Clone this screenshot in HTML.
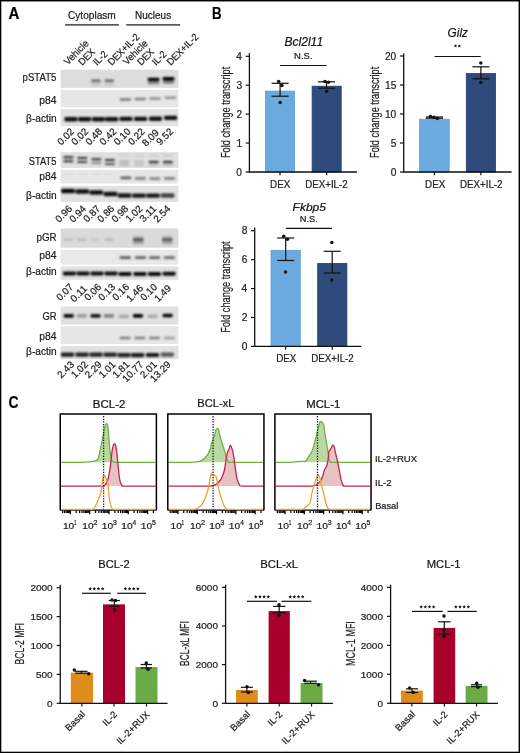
<!DOCTYPE html>
<html><head><meta charset="utf-8"><style>
html,body{margin:0;padding:0;background:#fff;width:520px;height:753px;overflow:hidden}
svg{display:block;opacity:0.999}
text{font-family:"Liberation Sans", sans-serif;stroke:#222;stroke-width:0.22px}
</style></head><body>
<svg width="520" height="753" viewBox="0 0 520 753" font-family='"Liberation Sans", sans-serif'>
<defs>
<filter id="bl7" x="-50%" y="-100%" width="200%" height="300%"><feGaussianBlur stdDeviation="0.7"/></filter>
<filter id="bl10" x="-50%" y="-100%" width="200%" height="300%"><feGaussianBlur stdDeviation="1.0"/></filter>
<filter id="bl12" x="-50%" y="-100%" width="200%" height="300%"><feGaussianBlur stdDeviation="1.2"/></filter>
</defs>
<rect width="520" height="753" fill="#fff"/>
<rect x="0.00" y="0.00" width="520.00" height="1.45" fill="#000"/>
<rect x="0.00" y="0.00" width="1.30" height="753.00" fill="#000"/>
<rect x="518.60" y="0.00" width="1.40" height="753.00" fill="#000"/>
<rect x="0.00" y="751.70" width="520.00" height="1.30" fill="#000"/>
<text x="8.47" y="18.60" font-size="16.2" font-weight="bold" fill="#000" textLength="10.93" lengthAdjust="spacingAndGlyphs">A</text>
<text x="212.11" y="18.60" font-size="16.2" font-weight="bold" fill="#000" textLength="9.59" lengthAdjust="spacingAndGlyphs">B</text>
<text x="8.43" y="407.90" font-size="16.2" font-weight="bold" fill="#000" textLength="10.05" lengthAdjust="spacingAndGlyphs">C</text>
<text x="67.99" y="19.30" font-size="10.3" fill="#222" textLength="47.78" lengthAdjust="spacingAndGlyphs">Cytoplasm</text>
<text x="134.98" y="19.20" font-size="10.0" fill="#222" textLength="36.18" lengthAdjust="spacingAndGlyphs">Nucleus</text>
<line x1="65.10" y1="24.85" x2="118.90" y2="24.85" stroke="#5c5c5c" stroke-width="1.8"/>
<line x1="126.20" y1="24.85" x2="180.20" y2="24.85" stroke="#5c5c5c" stroke-width="1.8"/>
<text transform="translate(68.00 65.40) rotate(-45)" x="-0.04" y="0" font-size="9.9" fill="#222" textLength="30.20" lengthAdjust="spacingAndGlyphs">Vehicle</text>
<text transform="translate(82.75 65.40) rotate(-45)" x="-0.76" y="0" font-size="9.9" fill="#222" textLength="18.93" lengthAdjust="spacingAndGlyphs">DEX</text>
<text transform="translate(97.50 65.40) rotate(-45)" x="-0.85" y="0" font-size="9.9" fill="#222" textLength="15.86" lengthAdjust="spacingAndGlyphs">IL-2</text>
<text transform="translate(112.25 65.40) rotate(-45)" x="-0.76" y="0" font-size="9.9" fill="#222" textLength="40.17" lengthAdjust="spacingAndGlyphs">DEX+IL-2</text>
<text transform="translate(127.00 65.40) rotate(-45)" x="-0.04" y="0" font-size="9.9" fill="#222" textLength="30.20" lengthAdjust="spacingAndGlyphs">Vehicle</text>
<text transform="translate(141.75 65.40) rotate(-45)" x="-0.76" y="0" font-size="9.9" fill="#222" textLength="18.93" lengthAdjust="spacingAndGlyphs">DEX</text>
<text transform="translate(156.50 65.40) rotate(-45)" x="-0.85" y="0" font-size="9.9" fill="#222" textLength="15.86" lengthAdjust="spacingAndGlyphs">IL-2</text>
<text transform="translate(171.25 65.40) rotate(-45)" x="-0.76" y="0" font-size="9.9" fill="#222" textLength="40.17" lengthAdjust="spacingAndGlyphs">DEX+IL-2</text>
<rect x="60.60" y="69.80" width="117.80" height="18.00" fill="#dddddd"/>
<g filter="url(#bl10)">
<rect x="91.10" y="79.50" width="9.60" height="2.40" rx="1.20" fill="#000" fill-opacity="0.55"/>
<rect x="104.50" y="79.50" width="9.60" height="2.40" rx="1.20" fill="#000" fill-opacity="0.55"/>
<rect x="91.10" y="83.50" width="9.60" height="1.80" rx="0.90" fill="#000" fill-opacity="0.18"/>
<rect x="104.50" y="83.50" width="9.60" height="1.80" rx="0.90" fill="#000" fill-opacity="0.18"/>
<rect x="147.70" y="77.70" width="11.80" height="3.60" rx="1.40" fill="#000" fill-opacity="1.0"/>
<rect x="162.60" y="77.10" width="11.80" height="3.60" rx="1.40" fill="#000" fill-opacity="1.0"/>
<rect x="147.85" y="81.80" width="11.50" height="2.40" rx="1.20" fill="#000" fill-opacity="0.45"/>
<rect x="162.75" y="81.30" width="11.50" height="2.40" rx="1.20" fill="#000" fill-opacity="0.45"/>
</g>
<rect x="60.60" y="89.90" width="117.80" height="17.40" fill="#e6e6e6"/>
<g filter="url(#bl10)">
<rect x="119.60" y="98.35" width="11.60" height="2.50" rx="1.25" fill="#000" fill-opacity="0.5"/>
<rect x="134.50" y="97.75" width="11.60" height="2.50" rx="1.25" fill="#000" fill-opacity="0.45"/>
<rect x="149.30" y="97.15" width="11.60" height="2.50" rx="1.25" fill="#000" fill-opacity="0.4"/>
<rect x="164.40" y="96.55" width="11.60" height="2.50" rx="1.25" fill="#000" fill-opacity="0.38"/>
</g>
<rect x="60.60" y="109.10" width="117.80" height="17.10" fill="#e2e2e2"/>
<g filter="url(#bl10)">
<rect x="64.35" y="117.10" width="13.00" height="4.40" rx="1.40" fill="#000" fill-opacity="0.93"/>
<rect x="78.05" y="117.10" width="13.00" height="4.40" rx="1.40" fill="#000" fill-opacity="0.93"/>
<rect x="91.85" y="117.10" width="13.00" height="4.40" rx="1.40" fill="#000" fill-opacity="0.93"/>
<rect x="105.15" y="117.10" width="13.00" height="4.40" rx="1.40" fill="#000" fill-opacity="0.93"/>
<rect x="119.50" y="116.70" width="13.00" height="4.40" rx="1.40" fill="#000" fill-opacity="0.93"/>
<rect x="134.10" y="116.70" width="13.00" height="4.40" rx="1.40" fill="#000" fill-opacity="0.93"/>
<rect x="149.00" y="116.50" width="13.00" height="4.40" rx="1.40" fill="#000" fill-opacity="0.93"/>
<rect x="164.10" y="115.70" width="13.00" height="4.40" rx="1.40" fill="#000" fill-opacity="0.93"/>
</g>
<text x="22.60" y="80.50" font-size="10.6" fill="#222" textLength="33.88" lengthAdjust="spacingAndGlyphs">pSTAT5</text>
<text x="39.13" y="103.50" font-size="10.6" fill="#222" textLength="17.27" lengthAdjust="spacingAndGlyphs">p84</text>
<text x="26.10" y="121.80" font-size="10.6" fill="#222" textLength="30.66" lengthAdjust="spacingAndGlyphs">β-actin</text>
<text transform="translate(74.40 132.50) rotate(-45)" x="-18.77" y="0" font-size="9.9" fill="#222" textLength="19.27" lengthAdjust="spacingAndGlyphs">0.02</text>
<text transform="translate(88.55 132.50) rotate(-45)" x="-18.77" y="0" font-size="9.9" fill="#222" textLength="19.27" lengthAdjust="spacingAndGlyphs">0.02</text>
<text transform="translate(102.70 132.50) rotate(-45)" x="-18.84" y="0" font-size="9.9" fill="#222" textLength="19.27" lengthAdjust="spacingAndGlyphs">0.48</text>
<text transform="translate(116.85 132.50) rotate(-45)" x="-18.77" y="0" font-size="9.9" fill="#222" textLength="19.27" lengthAdjust="spacingAndGlyphs">0.42</text>
<text transform="translate(131.00 132.50) rotate(-45)" x="-18.88" y="0" font-size="9.9" fill="#222" textLength="19.27" lengthAdjust="spacingAndGlyphs">0.10</text>
<text transform="translate(145.15 132.50) rotate(-45)" x="-18.77" y="0" font-size="9.9" fill="#222" textLength="19.27" lengthAdjust="spacingAndGlyphs">0.22</text>
<text transform="translate(159.30 133.70) rotate(-45)" x="-18.80" y="0" font-size="9.9" fill="#222" textLength="19.27" lengthAdjust="spacingAndGlyphs">8.09</text>
<text transform="translate(173.45 132.50) rotate(-45)" x="-18.77" y="0" font-size="9.9" fill="#222" textLength="19.27" lengthAdjust="spacingAndGlyphs">9.52</text>
<rect x="60.60" y="152.30" width="117.80" height="15.60" fill="#dfdfdf"/>
<g filter="url(#bl10)">
<rect x="63.30" y="156.30" width="10.20" height="2.00" rx="1.00" fill="#000" fill-opacity="0.85"/>
<rect x="77.20" y="156.90" width="10.20" height="2.00" rx="1.00" fill="#000" fill-opacity="0.8"/>
<rect x="91.30" y="158.20" width="10.20" height="2.00" rx="1.00" fill="#000" fill-opacity="0.8"/>
<rect x="104.80" y="159.00" width="10.20" height="2.00" rx="1.00" fill="#000" fill-opacity="0.8"/>
<rect x="119.20" y="154.60" width="10.20" height="2.00" rx="1.00" fill="#000" fill-opacity="0.08"/>
<rect x="134.10" y="154.60" width="10.20" height="2.00" rx="1.00" fill="#000" fill-opacity="0.08"/>
<rect x="148.60" y="154.60" width="10.20" height="2.00" rx="1.00" fill="#000" fill-opacity="0.1"/>
<rect x="162.80" y="154.60" width="10.20" height="2.00" rx="1.00" fill="#000" fill-opacity="0.1"/>
<rect x="63.30" y="160.30" width="10.20" height="2.00" rx="1.00" fill="#000" fill-opacity="0.8"/>
<rect x="77.20" y="160.90" width="10.20" height="2.00" rx="1.00" fill="#000" fill-opacity="0.75"/>
<rect x="91.30" y="162.00" width="10.20" height="2.00" rx="1.00" fill="#000" fill-opacity="0.4"/>
<rect x="104.80" y="163.00" width="10.20" height="2.00" rx="1.00" fill="#000" fill-opacity="0.65"/>
<rect x="119.20" y="160.80" width="10.20" height="2.00" rx="1.00" fill="#000" fill-opacity="0.28"/>
<rect x="134.10" y="160.80" width="10.20" height="2.00" rx="1.00" fill="#000" fill-opacity="0.2"/>
<rect x="148.60" y="160.90" width="10.20" height="2.00" rx="1.00" fill="#000" fill-opacity="0.85"/>
<rect x="162.80" y="160.90" width="10.20" height="2.00" rx="1.00" fill="#000" fill-opacity="0.85"/>
<rect x="119.20" y="164.25" width="10.20" height="1.70" rx="0.85" fill="#000" fill-opacity="0.22"/>
<rect x="134.10" y="164.25" width="10.20" height="1.70" rx="0.85" fill="#000" fill-opacity="0.17"/>
<rect x="148.60" y="164.25" width="10.20" height="1.70" rx="0.85" fill="#000" fill-opacity="0.22"/>
<rect x="162.80" y="164.25" width="10.20" height="1.70" rx="0.85" fill="#000" fill-opacity="0.22"/>
</g>
<rect x="60.60" y="169.80" width="117.80" height="13.70" fill="#e6e6e6"/>
<g filter="url(#bl10)">
<rect x="120.30" y="176.60" width="11.20" height="2.60" rx="1.30" fill="#000" fill-opacity="0.58"/>
<rect x="134.80" y="177.10" width="11.20" height="2.60" rx="1.30" fill="#000" fill-opacity="0.45"/>
<rect x="149.20" y="177.30" width="11.20" height="2.60" rx="1.30" fill="#000" fill-opacity="0.42"/>
<rect x="163.90" y="177.10" width="11.20" height="2.60" rx="1.30" fill="#000" fill-opacity="0.45"/>
<rect x="63.40" y="174.00" width="10.00" height="1.60" rx="0.80" fill="#000" fill-opacity="0.05"/>
<rect x="77.30" y="174.00" width="10.00" height="1.60" rx="0.80" fill="#000" fill-opacity="0.05"/>
<rect x="91.40" y="174.00" width="10.00" height="1.60" rx="0.80" fill="#000" fill-opacity="0.04"/>
<rect x="104.90" y="174.00" width="10.00" height="1.60" rx="0.80" fill="#000" fill-opacity="0.04"/>
</g>
<rect x="60.60" y="185.80" width="117.80" height="16.10" fill="#e1e1e1"/>
<g filter="url(#bl10)">
<rect x="61.20" y="188.85" width="13.60" height="4.30" rx="1.40" fill="#000" fill-opacity="0.97"/>
<rect x="75.40" y="189.35" width="13.60" height="4.30" rx="1.40" fill="#000" fill-opacity="0.93"/>
<rect x="89.50" y="190.35" width="13.60" height="4.30" rx="1.40" fill="#000" fill-opacity="0.93"/>
<rect x="103.70" y="191.85" width="13.60" height="4.30" rx="1.40" fill="#000" fill-opacity="0.93"/>
<rect x="117.70" y="193.35" width="13.60" height="4.30" rx="1.40" fill="#000" fill-opacity="0.9"/>
<rect x="132.10" y="193.55" width="13.60" height="4.30" rx="1.40" fill="#000" fill-opacity="0.9"/>
<rect x="146.30" y="193.55" width="13.60" height="4.30" rx="1.40" fill="#000" fill-opacity="0.9"/>
<rect x="160.80" y="193.35" width="13.60" height="4.30" rx="1.40" fill="#000" fill-opacity="0.72"/>
</g>
<text x="28.69" y="164.60" font-size="10.6" fill="#222" textLength="27.78" lengthAdjust="spacingAndGlyphs">STAT5</text>
<text x="39.13" y="179.60" font-size="10.6" fill="#222" textLength="17.27" lengthAdjust="spacingAndGlyphs">p84</text>
<text x="26.10" y="198.50" font-size="10.6" fill="#222" textLength="30.66" lengthAdjust="spacingAndGlyphs">β-actin</text>
<text transform="translate(72.50 209.60) rotate(-45)" x="-18.83" y="0" font-size="9.9" fill="#222" textLength="19.27" lengthAdjust="spacingAndGlyphs">0.96</text>
<text transform="translate(86.55 209.60) rotate(-45)" x="-18.98" y="0" font-size="9.9" fill="#222" textLength="19.27" lengthAdjust="spacingAndGlyphs">0.94</text>
<text transform="translate(100.60 209.60) rotate(-45)" x="-18.77" y="0" font-size="9.9" fill="#222" textLength="19.27" lengthAdjust="spacingAndGlyphs">0.87</text>
<text transform="translate(114.65 209.60) rotate(-45)" x="-18.83" y="0" font-size="9.9" fill="#222" textLength="19.27" lengthAdjust="spacingAndGlyphs">0.86</text>
<text transform="translate(128.70 209.60) rotate(-45)" x="-18.84" y="0" font-size="9.9" fill="#222" textLength="19.27" lengthAdjust="spacingAndGlyphs">0.98</text>
<text transform="translate(142.75 209.60) rotate(-45)" x="-18.77" y="0" font-size="9.9" fill="#222" textLength="19.27" lengthAdjust="spacingAndGlyphs">1.02</text>
<text transform="translate(156.80 209.60) rotate(-45)" x="-18.78" y="0" font-size="9.9" fill="#222" textLength="19.27" lengthAdjust="spacingAndGlyphs">3.11</text>
<text transform="translate(170.85 209.60) rotate(-45)" x="-18.98" y="0" font-size="9.9" fill="#222" textLength="19.27" lengthAdjust="spacingAndGlyphs">2.54</text>
<rect x="60.60" y="228.50" width="117.80" height="19.20" fill="#dadada"/>
<g filter="url(#bl10)">
<rect x="63.65" y="238.30" width="9.50" height="2.60" rx="1.30" fill="#000" fill-opacity="0.13"/>
<rect x="76.65" y="238.30" width="9.50" height="2.60" rx="1.30" fill="#000" fill-opacity="0.14"/>
<rect x="90.15" y="238.30" width="9.50" height="2.60" rx="1.30" fill="#000" fill-opacity="0.08"/>
<rect x="104.25" y="238.30" width="9.50" height="2.60" rx="1.30" fill="#000" fill-opacity="0.14"/>
<rect x="132.80" y="237.80" width="10.80" height="3.40" rx="1.40" fill="#000" fill-opacity="0.58"/>
<rect x="161.90" y="237.80" width="10.80" height="3.40" rx="1.40" fill="#000" fill-opacity="0.55"/>
<rect x="132.80" y="241.10" width="10.80" height="3.40" rx="1.40" fill="#000" fill-opacity="0.25"/>
<rect x="161.90" y="241.10" width="10.80" height="3.40" rx="1.40" fill="#000" fill-opacity="0.22"/>
<rect x="133.20" y="235.50" width="10.00" height="2.00" rx="1.00" fill="#000" fill-opacity="0.12"/>
<rect x="162.30" y="235.50" width="10.00" height="2.00" rx="1.00" fill="#000" fill-opacity="0.12"/>
</g>
<rect x="60.60" y="250.00" width="117.80" height="14.60" fill="#e8e8e8"/>
<g filter="url(#bl10)">
<rect x="119.55" y="256.30" width="11.50" height="2.60" rx="1.30" fill="#000" fill-opacity="0.62"/>
<rect x="134.75" y="256.30" width="11.50" height="2.60" rx="1.30" fill="#000" fill-opacity="0.58"/>
<rect x="148.85" y="256.30" width="11.50" height="2.60" rx="1.30" fill="#000" fill-opacity="0.58"/>
<rect x="163.75" y="256.30" width="11.50" height="2.60" rx="1.30" fill="#000" fill-opacity="0.55"/>
</g>
<rect x="60.60" y="266.40" width="117.80" height="13.40" fill="#e1e1e1"/>
<g filter="url(#bl10)">
<rect x="62.90" y="271.50" width="13.00" height="4.00" rx="1.40" fill="#000" fill-opacity="0.95"/>
<rect x="76.50" y="271.50" width="13.00" height="4.00" rx="1.40" fill="#000" fill-opacity="0.95"/>
<rect x="90.50" y="271.50" width="13.00" height="4.00" rx="1.40" fill="#000" fill-opacity="0.95"/>
<rect x="104.50" y="271.50" width="13.00" height="4.00" rx="1.40" fill="#000" fill-opacity="0.95"/>
<rect x="118.50" y="272.00" width="13.00" height="4.00" rx="1.40" fill="#000" fill-opacity="0.95"/>
<rect x="133.50" y="272.10" width="13.00" height="4.00" rx="1.40" fill="#000" fill-opacity="0.95"/>
<rect x="148.00" y="272.10" width="13.00" height="4.00" rx="1.40" fill="#000" fill-opacity="0.95"/>
<rect x="162.60" y="271.70" width="13.00" height="4.00" rx="1.40" fill="#000" fill-opacity="0.95"/>
</g>
<text x="36.47" y="241.10" font-size="10.6" fill="#222" textLength="20.08" lengthAdjust="spacingAndGlyphs">pGR</text>
<text x="39.13" y="258.50" font-size="10.6" fill="#222" textLength="17.27" lengthAdjust="spacingAndGlyphs">p84</text>
<text x="26.10" y="275.10" font-size="10.6" fill="#222" textLength="30.66" lengthAdjust="spacingAndGlyphs">β-actin</text>
<text transform="translate(73.50 288.00) rotate(-45)" x="-18.77" y="0" font-size="9.9" fill="#222" textLength="19.27" lengthAdjust="spacingAndGlyphs">0.07</text>
<text transform="translate(87.50 289.50) rotate(-45)" x="-18.78" y="0" font-size="9.9" fill="#222" textLength="19.27" lengthAdjust="spacingAndGlyphs">0.11</text>
<text transform="translate(101.50 288.00) rotate(-45)" x="-18.83" y="0" font-size="9.9" fill="#222" textLength="19.27" lengthAdjust="spacingAndGlyphs">0.06</text>
<text transform="translate(115.50 288.00) rotate(-45)" x="-18.83" y="0" font-size="9.9" fill="#222" textLength="19.27" lengthAdjust="spacingAndGlyphs">0.13</text>
<text transform="translate(129.50 288.00) rotate(-45)" x="-18.83" y="0" font-size="9.9" fill="#222" textLength="19.27" lengthAdjust="spacingAndGlyphs">0.16</text>
<text transform="translate(143.50 289.20) rotate(-45)" x="-18.83" y="0" font-size="9.9" fill="#222" textLength="19.27" lengthAdjust="spacingAndGlyphs">1.46</text>
<text transform="translate(157.50 288.00) rotate(-45)" x="-18.88" y="0" font-size="9.9" fill="#222" textLength="19.27" lengthAdjust="spacingAndGlyphs">0.10</text>
<text transform="translate(171.50 289.20) rotate(-45)" x="-18.80" y="0" font-size="9.9" fill="#222" textLength="19.27" lengthAdjust="spacingAndGlyphs">1.49</text>
<rect x="60.60" y="306.50" width="117.80" height="18.10" fill="#e0e0e0"/>
<g filter="url(#bl10)">
<rect x="63.60" y="314.10" width="10.20" height="3.60" rx="1.40" fill="#000" fill-opacity="0.95"/>
<rect x="76.70" y="314.10" width="10.20" height="3.60" rx="1.40" fill="#000" fill-opacity="0.3"/>
<rect x="90.40" y="314.10" width="10.20" height="3.60" rx="1.40" fill="#000" fill-opacity="0.9"/>
<rect x="103.80" y="314.10" width="10.20" height="3.60" rx="1.40" fill="#000" fill-opacity="0.42"/>
<rect x="118.70" y="314.70" width="10.20" height="3.60" rx="1.40" fill="#000" fill-opacity="0.25"/>
<rect x="132.90" y="314.10" width="10.20" height="3.60" rx="1.40" fill="#000" fill-opacity="0.98"/>
<rect x="147.50" y="314.50" width="10.20" height="3.60" rx="1.40" fill="#000" fill-opacity="0.25"/>
<rect x="162.50" y="313.70" width="10.20" height="3.60" rx="1.40" fill="#000" fill-opacity="0.98"/>
</g>
<rect x="60.60" y="326.20" width="117.80" height="17.70" fill="#e6e6e6"/>
<g filter="url(#bl10)">
<rect x="119.40" y="336.65" width="11.20" height="2.70" rx="1.35" fill="#000" fill-opacity="0.48"/>
<rect x="134.30" y="336.65" width="11.20" height="2.70" rx="1.35" fill="#000" fill-opacity="0.45"/>
<rect x="148.80" y="336.65" width="11.20" height="2.70" rx="1.35" fill="#000" fill-opacity="0.45"/>
<rect x="163.90" y="336.65" width="11.20" height="2.70" rx="1.35" fill="#000" fill-opacity="0.32"/>
</g>
<rect x="60.60" y="346.10" width="117.80" height="13.20" fill="#e1e1e1"/>
<g filter="url(#bl10)">
<rect x="60.90" y="352.50" width="13.20" height="4.20" rx="1.40" fill="#000" fill-opacity="0.88"/>
<rect x="75.40" y="352.50" width="13.20" height="4.20" rx="1.40" fill="#000" fill-opacity="0.85"/>
<rect x="89.40" y="352.50" width="13.20" height="4.20" rx="1.40" fill="#000" fill-opacity="0.85"/>
<rect x="103.60" y="352.50" width="13.20" height="4.20" rx="1.40" fill="#000" fill-opacity="0.85"/>
<rect x="117.40" y="353.00" width="13.20" height="4.20" rx="1.40" fill="#000" fill-opacity="0.85"/>
<rect x="131.00" y="353.00" width="13.20" height="4.20" rx="1.40" fill="#000" fill-opacity="0.88"/>
<rect x="145.90" y="352.90" width="13.20" height="4.20" rx="1.40" fill="#000" fill-opacity="0.9"/>
<rect x="160.70" y="352.50" width="13.20" height="4.20" rx="1.40" fill="#000" fill-opacity="0.62"/>
</g>
<text x="42.43" y="319.60" font-size="10.6" fill="#222" textLength="14.11" lengthAdjust="spacingAndGlyphs">GR</text>
<text x="39.13" y="339.50" font-size="10.6" fill="#222" textLength="17.27" lengthAdjust="spacingAndGlyphs">p84</text>
<text x="26.10" y="355.00" font-size="10.6" fill="#222" textLength="30.66" lengthAdjust="spacingAndGlyphs">β-actin</text>
<text transform="translate(74.50 365.50) rotate(-45)" x="-18.83" y="0" font-size="9.9" fill="#222" textLength="19.27" lengthAdjust="spacingAndGlyphs">2.43</text>
<text transform="translate(88.30 365.50) rotate(-45)" x="-18.77" y="0" font-size="9.9" fill="#222" textLength="19.27" lengthAdjust="spacingAndGlyphs">1.02</text>
<text transform="translate(102.10 365.50) rotate(-45)" x="-18.80" y="0" font-size="9.9" fill="#222" textLength="19.27" lengthAdjust="spacingAndGlyphs">2.29</text>
<text transform="translate(115.90 365.50) rotate(-45)" x="-18.78" y="0" font-size="9.9" fill="#222" textLength="19.27" lengthAdjust="spacingAndGlyphs">1.01</text>
<text transform="translate(129.70 365.50) rotate(-45)" x="-18.78" y="0" font-size="9.9" fill="#222" textLength="19.27" lengthAdjust="spacingAndGlyphs">1.81</text>
<text transform="translate(143.50 365.50) rotate(-45)" x="-24.28" y="0" font-size="9.9" fill="#222" textLength="24.77" lengthAdjust="spacingAndGlyphs">10.77</text>
<text transform="translate(157.30 365.50) rotate(-45)" x="-18.78" y="0" font-size="9.9" fill="#222" textLength="19.27" lengthAdjust="spacingAndGlyphs">2.01</text>
<text transform="translate(171.10 365.50) rotate(-45)" x="-24.31" y="0" font-size="9.9" fill="#222" textLength="24.77" lengthAdjust="spacingAndGlyphs">13.29</text>
<rect x="265.40" y="91.11" width="29.20" height="80.89" fill="#6aaade" stroke="#5d9fd6" stroke-width="0.8"/>
<rect x="312.10" y="86.19" width="29.10" height="85.81" fill="#2e4b7c" stroke="#22406f" stroke-width="0.8"/>
<line x1="249.40" y1="53.10" x2="249.40" y2="172.65" stroke="#111" stroke-width="1.3"/>
<line x1="248.75" y1="172.00" x2="356.90" y2="172.00" stroke="#111" stroke-width="1.3"/>
<line x1="245.70" y1="172.00" x2="249.40" y2="172.00" stroke="#111" stroke-width="1.2"/>
<text x="236.33" y="175.50" font-size="10.2" fill="#222" textLength="5.67" lengthAdjust="spacingAndGlyphs">0</text>
<line x1="245.70" y1="143.07" x2="249.40" y2="143.07" stroke="#111" stroke-width="1.2"/>
<text x="236.43" y="146.57" font-size="10.2" fill="#222" textLength="5.67" lengthAdjust="spacingAndGlyphs">1</text>
<line x1="245.70" y1="114.14" x2="249.40" y2="114.14" stroke="#111" stroke-width="1.2"/>
<text x="236.44" y="117.64" font-size="10.2" fill="#222" textLength="5.67" lengthAdjust="spacingAndGlyphs">2</text>
<line x1="245.70" y1="85.21" x2="249.40" y2="85.21" stroke="#111" stroke-width="1.2"/>
<text x="236.38" y="88.71" font-size="10.2" fill="#222" textLength="5.67" lengthAdjust="spacingAndGlyphs">3</text>
<line x1="245.70" y1="56.28" x2="249.40" y2="56.28" stroke="#111" stroke-width="1.2"/>
<text x="236.23" y="59.78" font-size="10.2" fill="#222" textLength="5.67" lengthAdjust="spacingAndGlyphs">4</text>
<line x1="280.00" y1="172.00" x2="280.00" y2="175.30" stroke="#111" stroke-width="1.2"/>
<line x1="326.65" y1="172.00" x2="326.65" y2="175.30" stroke="#111" stroke-width="1.2"/>
<line x1="280.10" y1="83.30" x2="280.10" y2="96.20" stroke="#111" stroke-width="1.2"/>
<line x1="271.60" y1="83.30" x2="288.60" y2="83.30" stroke="#111" stroke-width="1.2"/>
<line x1="271.60" y1="96.20" x2="288.60" y2="96.20" stroke="#111" stroke-width="1.2"/>
<line x1="326.50" y1="81.80" x2="326.50" y2="88.20" stroke="#111" stroke-width="1.2"/>
<line x1="318.00" y1="81.80" x2="335.00" y2="81.80" stroke="#111" stroke-width="1.2"/>
<line x1="318.00" y1="88.20" x2="335.00" y2="88.20" stroke="#111" stroke-width="1.2"/>
<circle cx="278.70" cy="81.40" r="1.75" fill="#111"/>
<circle cx="281.90" cy="85.40" r="1.75" fill="#111"/>
<circle cx="280.20" cy="102.60" r="1.75" fill="#111"/>
<circle cx="325.00" cy="81.40" r="1.75" fill="#111"/>
<circle cx="328.40" cy="82.30" r="1.75" fill="#111"/>
<circle cx="326.70" cy="91.30" r="1.75" fill="#111"/>
<text transform="translate(229.80 157.30) rotate(-90)" x="-0.76" y="0" font-size="12.6" fill="#222" textLength="91.32" lengthAdjust="spacingAndGlyphs">Fold change transcript</text>
<text x="270.09" y="187.90" font-size="10.0" fill="#222" textLength="20.21" lengthAdjust="spacingAndGlyphs">DEX</text>
<text x="305.25" y="187.90" font-size="10.0" fill="#222" textLength="42.39" lengthAdjust="spacingAndGlyphs">DEX+IL-2</text>
<text x="284.64" y="45.50" font-size="11.9" font-style="italic" fill="#111" textLength="38.45" lengthAdjust="spacingAndGlyphs">Bcl2l11</text>
<text x="294.12" y="59.40" font-size="9.3" fill="#222" textLength="18.44" lengthAdjust="spacingAndGlyphs">N.S.</text>
<line x1="280.00" y1="65.50" x2="326.60" y2="65.50" stroke="#111" stroke-width="1.2"/>
<rect x="419.50" y="119.21" width="29.70" height="52.79" fill="#6aaade" stroke="#5d9fd6" stroke-width="0.8"/>
<rect x="466.30" y="73.51" width="29.20" height="98.49" fill="#2e4b7c" stroke="#22406f" stroke-width="0.8"/>
<line x1="403.70" y1="53.30" x2="403.70" y2="172.65" stroke="#111" stroke-width="1.3"/>
<line x1="403.05" y1="172.00" x2="511.60" y2="172.00" stroke="#111" stroke-width="1.3"/>
<line x1="400.00" y1="172.00" x2="403.70" y2="172.00" stroke="#111" stroke-width="1.2"/>
<text x="390.63" y="175.50" font-size="10.2" fill="#222" textLength="5.67" lengthAdjust="spacingAndGlyphs">0</text>
<line x1="400.00" y1="143.00" x2="403.70" y2="143.00" stroke="#111" stroke-width="1.2"/>
<text x="390.66" y="146.50" font-size="10.2" fill="#222" textLength="5.67" lengthAdjust="spacingAndGlyphs">5</text>
<line x1="400.00" y1="114.00" x2="403.70" y2="114.00" stroke="#111" stroke-width="1.2"/>
<text x="384.95" y="117.50" font-size="10.2" fill="#222" textLength="11.35" lengthAdjust="spacingAndGlyphs">10</text>
<line x1="400.00" y1="85.00" x2="403.70" y2="85.00" stroke="#111" stroke-width="1.2"/>
<text x="384.98" y="88.50" font-size="10.2" fill="#222" textLength="11.35" lengthAdjust="spacingAndGlyphs">15</text>
<line x1="400.00" y1="56.00" x2="403.70" y2="56.00" stroke="#111" stroke-width="1.2"/>
<text x="384.95" y="59.50" font-size="10.2" fill="#222" textLength="11.35" lengthAdjust="spacingAndGlyphs">20</text>
<line x1="434.35" y1="172.00" x2="434.35" y2="175.30" stroke="#111" stroke-width="1.2"/>
<line x1="480.90" y1="172.00" x2="480.90" y2="175.30" stroke="#111" stroke-width="1.2"/>
<line x1="434.40" y1="117.00" x2="434.40" y2="118.20" stroke="#111" stroke-width="1.2"/>
<line x1="425.80" y1="117.00" x2="443.00" y2="117.00" stroke="#111" stroke-width="1.2"/>
<line x1="425.80" y1="118.20" x2="443.00" y2="118.20" stroke="#111" stroke-width="1.2"/>
<line x1="480.90" y1="66.80" x2="480.90" y2="78.80" stroke="#111" stroke-width="1.2"/>
<line x1="472.40" y1="66.80" x2="489.40" y2="66.80" stroke="#111" stroke-width="1.2"/>
<line x1="472.40" y1="78.80" x2="489.40" y2="78.80" stroke="#111" stroke-width="1.2"/>
<circle cx="430.40" cy="116.40" r="1.75" fill="#111"/>
<circle cx="433.80" cy="117.30" r="1.75" fill="#111"/>
<circle cx="437.30" cy="118.50" r="1.75" fill="#111"/>
<circle cx="480.80" cy="63.00" r="1.75" fill="#111"/>
<circle cx="480.80" cy="82.50" r="1.75" fill="#111"/>
<text transform="translate(378.75 157.25) rotate(-90)" x="-0.76" y="0" font-size="12.6" fill="#222" textLength="91.32" lengthAdjust="spacingAndGlyphs">Fold change transcript</text>
<text x="425.04" y="187.90" font-size="10.0" fill="#222" textLength="20.21" lengthAdjust="spacingAndGlyphs">DEX</text>
<text x="460.10" y="187.90" font-size="10.0" fill="#222" textLength="42.39" lengthAdjust="spacingAndGlyphs">DEX+IL-2</text>
<text x="447.62" y="36.80" font-size="12.0" font-style="italic" fill="#111" textLength="20.34" lengthAdjust="spacingAndGlyphs">Gilz</text>
<polygon points="455.50,44.15 455.97,45.35 457.26,45.43 456.26,46.25 456.59,47.50 455.50,46.80 454.41,47.50 454.74,46.25 453.74,45.43 455.03,45.35" fill="#111"/>
<polygon points="459.30,44.15 459.77,45.35 461.06,45.43 460.06,46.25 460.39,47.50 459.30,46.80 458.21,47.50 458.54,46.25 457.54,45.43 458.83,45.35" fill="#111"/>
<line x1="434.50" y1="56.50" x2="480.80" y2="56.50" stroke="#111" stroke-width="1.2"/>
<rect x="271.00" y="250.35" width="29.30" height="96.05" fill="#6aaade" stroke="#5d9fd6" stroke-width="0.8"/>
<rect x="317.70" y="263.37" width="29.20" height="83.03" fill="#2e4b7c" stroke="#22406f" stroke-width="0.8"/>
<line x1="254.70" y1="227.50" x2="254.70" y2="347.05" stroke="#111" stroke-width="1.3"/>
<line x1="254.05" y1="346.40" x2="361.30" y2="346.40" stroke="#111" stroke-width="1.3"/>
<line x1="251.00" y1="346.40" x2="254.70" y2="346.40" stroke="#111" stroke-width="1.2"/>
<text x="241.63" y="349.90" font-size="10.2" fill="#222" textLength="5.67" lengthAdjust="spacingAndGlyphs">0</text>
<line x1="251.00" y1="317.48" x2="254.70" y2="317.48" stroke="#111" stroke-width="1.2"/>
<text x="241.74" y="320.98" font-size="10.2" fill="#222" textLength="5.67" lengthAdjust="spacingAndGlyphs">2</text>
<line x1="251.00" y1="288.56" x2="254.70" y2="288.56" stroke="#111" stroke-width="1.2"/>
<text x="241.53" y="292.06" font-size="10.2" fill="#222" textLength="5.67" lengthAdjust="spacingAndGlyphs">4</text>
<line x1="251.00" y1="259.64" x2="254.70" y2="259.64" stroke="#111" stroke-width="1.2"/>
<text x="241.68" y="263.14" font-size="10.2" fill="#222" textLength="5.67" lengthAdjust="spacingAndGlyphs">6</text>
<line x1="251.00" y1="230.72" x2="254.70" y2="230.72" stroke="#111" stroke-width="1.2"/>
<text x="241.67" y="234.22" font-size="10.2" fill="#222" textLength="5.67" lengthAdjust="spacingAndGlyphs">8</text>
<line x1="285.65" y1="346.40" x2="285.65" y2="349.70" stroke="#111" stroke-width="1.2"/>
<line x1="332.30" y1="346.40" x2="332.30" y2="349.70" stroke="#111" stroke-width="1.2"/>
<line x1="285.70" y1="238.00" x2="285.70" y2="260.50" stroke="#111" stroke-width="1.2"/>
<line x1="277.20" y1="238.00" x2="294.20" y2="238.00" stroke="#111" stroke-width="1.2"/>
<line x1="277.20" y1="260.50" x2="294.20" y2="260.50" stroke="#111" stroke-width="1.2"/>
<line x1="332.20" y1="251.30" x2="332.20" y2="273.00" stroke="#111" stroke-width="1.2"/>
<line x1="323.70" y1="251.30" x2="340.70" y2="251.30" stroke="#111" stroke-width="1.2"/>
<line x1="323.70" y1="273.00" x2="340.70" y2="273.00" stroke="#111" stroke-width="1.2"/>
<circle cx="283.70" cy="236.30" r="1.75" fill="#111"/>
<circle cx="287.50" cy="239.30" r="1.75" fill="#111"/>
<circle cx="285.50" cy="272.00" r="1.75" fill="#111"/>
<circle cx="331.80" cy="242.50" r="1.75" fill="#111"/>
<circle cx="331.80" cy="280.00" r="1.75" fill="#111"/>
<text transform="translate(229.90 331.90) rotate(-90)" x="-0.76" y="0" font-size="12.6" fill="#222" textLength="91.32" lengthAdjust="spacingAndGlyphs">Fold change transcript</text>
<text x="276.14" y="361.90" font-size="10.0" fill="#222" textLength="20.21" lengthAdjust="spacingAndGlyphs">DEX</text>
<text x="311.30" y="361.90" font-size="10.0" fill="#222" textLength="42.39" lengthAdjust="spacingAndGlyphs">DEX+IL-2</text>
<text x="292.63" y="210.90" font-size="11.1" font-style="italic" fill="#111" textLength="33.34" lengthAdjust="spacingAndGlyphs">Fkbp5</text>
<text x="299.74" y="222.40" font-size="8.8" fill="#222" textLength="18.00" lengthAdjust="spacingAndGlyphs">N.S.</text>
<line x1="285.80" y1="228.30" x2="332.00" y2="228.30" stroke="#111" stroke-width="1.2"/>
<text x="92.86" y="407.70" font-size="10.3" fill="#111" textLength="32.62" lengthAdjust="spacingAndGlyphs">BCL-2</text>
<line x1="60.25" y1="510.20" x2="156.40" y2="510.20" stroke="#000" stroke-width="1.3"/>
<path d="M61.05,462.30 C64.21,462.30 75.24,462.37 80.00,462.30 C84.76,462.23 87.03,462.13 89.60,461.90 C92.17,461.67 94.03,461.35 95.40,460.90 C96.77,460.45 97.17,460.28 97.80,459.20 C98.43,458.12 98.63,456.65 99.20,454.40 C99.77,452.15 100.55,448.90 101.20,445.70 C101.85,442.50 102.47,438.40 103.10,435.20 C103.73,432.00 104.45,428.48 105.00,426.50 C105.55,424.52 105.92,423.30 106.40,423.30 C106.88,423.30 107.50,424.05 107.90,426.50 C108.30,428.95 108.45,434.00 108.80,438.00 C109.15,442.00 109.63,447.28 110.00,450.50 C110.37,453.72 110.63,455.53 111.00,457.30 C111.37,459.07 111.60,460.30 112.20,461.10 C112.80,461.90 113.63,461.90 114.60,462.10 C115.57,462.30 111.17,462.27 118.00,462.30 C124.83,462.33 149.33,462.30 155.60,462.30 L155.60,462.30 L61.05,462.30 Z" fill="#bad9a2" stroke="none"/>
<path d="M61.05,486.10 C67.54,486.10 92.96,486.12 100.00,486.10 C107.04,486.08 102.35,486.32 103.30,486.00 C104.25,485.68 104.98,485.13 105.70,484.20 C106.42,483.27 107.05,482.00 107.60,480.40 C108.15,478.80 108.52,477.17 109.00,474.60 C109.48,472.03 110.02,468.68 110.50,465.00 C110.98,461.32 111.42,455.78 111.90,452.50 C112.38,449.22 112.97,446.72 113.40,445.30 C113.83,443.88 114.10,443.92 114.50,444.00 C114.90,444.08 115.35,443.75 115.80,445.80 C116.25,447.85 116.72,451.98 117.20,456.30 C117.68,460.62 118.22,467.53 118.70,471.70 C119.18,475.87 119.55,479.05 120.10,481.30 C120.65,483.55 121.12,484.40 122.00,485.20 C122.88,486.00 119.80,485.95 125.40,486.10 C131.00,486.25 150.57,486.10 155.60,486.10 L155.60,486.10 L61.05,486.10 Z" fill="#e7c2c3" stroke="none"/>
<path d="M61.05,462.30 C64.21,462.30 75.24,462.37 80.00,462.30 C84.76,462.23 87.03,462.13 89.60,461.90 C92.17,461.67 94.03,461.35 95.40,460.90 C96.77,460.45 97.17,460.28 97.80,459.20 C98.43,458.12 98.63,456.65 99.20,454.40 C99.77,452.15 100.55,448.90 101.20,445.70 C101.85,442.50 102.47,438.40 103.10,435.20 C103.73,432.00 104.45,428.48 105.00,426.50 C105.55,424.52 105.92,423.30 106.40,423.30 C106.88,423.30 107.50,424.05 107.90,426.50 C108.30,428.95 108.45,434.00 108.80,438.00 C109.15,442.00 109.63,447.28 110.00,450.50 C110.37,453.72 110.63,455.53 111.00,457.30 C111.37,459.07 111.60,460.30 112.20,461.10 C112.80,461.90 113.63,461.90 114.60,462.10 C115.57,462.30 111.17,462.27 118.00,462.30 C124.83,462.33 149.33,462.30 155.60,462.30" fill="none" stroke="#6db33f" stroke-width="1.3" stroke-linejoin="round"/>
<path d="M61.05,486.10 C67.54,486.10 92.96,486.12 100.00,486.10 C107.04,486.08 102.35,486.32 103.30,486.00 C104.25,485.68 104.98,485.13 105.70,484.20 C106.42,483.27 107.05,482.00 107.60,480.40 C108.15,478.80 108.52,477.17 109.00,474.60 C109.48,472.03 110.02,468.68 110.50,465.00 C110.98,461.32 111.42,455.78 111.90,452.50 C112.38,449.22 112.97,446.72 113.40,445.30 C113.83,443.88 114.10,443.92 114.50,444.00 C114.90,444.08 115.35,443.75 115.80,445.80 C116.25,447.85 116.72,451.98 117.20,456.30 C117.68,460.62 118.22,467.53 118.70,471.70 C119.18,475.87 119.55,479.05 120.10,481.30 C120.65,483.55 121.12,484.40 122.00,485.20 C122.88,486.00 119.80,485.95 125.40,486.10 C131.00,486.25 150.57,486.10 155.60,486.10" fill="none" stroke="#c4244c" stroke-width="1.3" stroke-linejoin="round"/>
<path d="M61.05,509.50 C65.54,509.50 82.79,509.52 88.00,509.50 C93.21,509.48 91.27,509.63 92.30,509.40 C93.33,509.17 93.50,509.03 94.20,508.10 C94.90,507.17 95.73,505.40 96.50,503.80 C97.27,502.20 98.08,500.30 98.80,498.50 C99.52,496.70 100.28,494.93 100.80,493.00 C101.32,491.07 101.62,489.07 101.90,486.90 C102.18,484.73 102.23,481.78 102.50,480.00 C102.77,478.22 103.22,476.97 103.50,476.20 C103.78,475.43 103.92,475.28 104.20,475.40 C104.48,475.52 104.82,476.13 105.20,476.90 C105.58,477.67 106.08,478.97 106.50,480.00 C106.92,481.03 107.37,481.43 107.70,483.10 C108.03,484.77 108.20,487.32 108.50,490.00 C108.80,492.68 109.12,496.63 109.50,499.20 C109.88,501.77 110.33,503.80 110.80,505.40 C111.27,507.00 111.73,508.13 112.30,508.80 C112.87,509.47 113.25,509.28 114.20,509.40 C115.15,509.52 111.10,509.48 118.00,509.50 C124.90,509.52 149.33,509.50 155.60,509.50" fill="none" stroke="#eea232" stroke-width="1.3" stroke-linejoin="round"/>
<line x1="103.60" y1="416.00" x2="103.60" y2="509.60" stroke="#111" stroke-width="1.3" stroke-dasharray="1.25,1.4"/>
<path d="M60.25,510.20 V414.00 H156.40 V510.20" fill="none" stroke="#000" stroke-width="1.5"/>
<line x1="62.72" y1="510.40" x2="62.72" y2="513.10" stroke="#000" stroke-width="1.25"/>
<line x1="64.59" y1="510.40" x2="64.59" y2="513.10" stroke="#000" stroke-width="1.25"/>
<line x1="66.12" y1="510.40" x2="66.12" y2="513.10" stroke="#000" stroke-width="1.25"/>
<line x1="67.41" y1="510.40" x2="67.41" y2="513.10" stroke="#000" stroke-width="1.25"/>
<line x1="68.53" y1="510.40" x2="68.53" y2="513.10" stroke="#000" stroke-width="1.25"/>
<line x1="69.52" y1="510.40" x2="69.52" y2="513.10" stroke="#000" stroke-width="1.25"/>
<line x1="70.40" y1="510.40" x2="70.40" y2="514.20" stroke="#000" stroke-width="1.25"/>
<line x1="76.21" y1="510.40" x2="76.21" y2="513.10" stroke="#000" stroke-width="1.25"/>
<line x1="79.61" y1="510.40" x2="79.61" y2="513.10" stroke="#000" stroke-width="1.25"/>
<line x1="82.02" y1="510.40" x2="82.02" y2="513.10" stroke="#000" stroke-width="1.25"/>
<line x1="83.89" y1="510.40" x2="83.89" y2="513.10" stroke="#000" stroke-width="1.25"/>
<line x1="85.42" y1="510.40" x2="85.42" y2="513.10" stroke="#000" stroke-width="1.25"/>
<line x1="86.71" y1="510.40" x2="86.71" y2="513.10" stroke="#000" stroke-width="1.25"/>
<line x1="87.83" y1="510.40" x2="87.83" y2="513.10" stroke="#000" stroke-width="1.25"/>
<line x1="88.82" y1="510.40" x2="88.82" y2="513.10" stroke="#000" stroke-width="1.25"/>
<line x1="89.70" y1="510.40" x2="89.70" y2="514.20" stroke="#000" stroke-width="1.25"/>
<line x1="95.51" y1="510.40" x2="95.51" y2="513.10" stroke="#000" stroke-width="1.25"/>
<line x1="98.91" y1="510.40" x2="98.91" y2="513.10" stroke="#000" stroke-width="1.25"/>
<line x1="101.32" y1="510.40" x2="101.32" y2="513.10" stroke="#000" stroke-width="1.25"/>
<line x1="103.19" y1="510.40" x2="103.19" y2="513.10" stroke="#000" stroke-width="1.25"/>
<line x1="104.72" y1="510.40" x2="104.72" y2="513.10" stroke="#000" stroke-width="1.25"/>
<line x1="106.01" y1="510.40" x2="106.01" y2="513.10" stroke="#000" stroke-width="1.25"/>
<line x1="107.13" y1="510.40" x2="107.13" y2="513.10" stroke="#000" stroke-width="1.25"/>
<line x1="108.12" y1="510.40" x2="108.12" y2="513.10" stroke="#000" stroke-width="1.25"/>
<line x1="109.00" y1="510.40" x2="109.00" y2="514.20" stroke="#000" stroke-width="1.25"/>
<line x1="114.81" y1="510.40" x2="114.81" y2="513.10" stroke="#000" stroke-width="1.25"/>
<line x1="118.21" y1="510.40" x2="118.21" y2="513.10" stroke="#000" stroke-width="1.25"/>
<line x1="120.62" y1="510.40" x2="120.62" y2="513.10" stroke="#000" stroke-width="1.25"/>
<line x1="122.49" y1="510.40" x2="122.49" y2="513.10" stroke="#000" stroke-width="1.25"/>
<line x1="124.02" y1="510.40" x2="124.02" y2="513.10" stroke="#000" stroke-width="1.25"/>
<line x1="125.31" y1="510.40" x2="125.31" y2="513.10" stroke="#000" stroke-width="1.25"/>
<line x1="126.43" y1="510.40" x2="126.43" y2="513.10" stroke="#000" stroke-width="1.25"/>
<line x1="127.42" y1="510.40" x2="127.42" y2="513.10" stroke="#000" stroke-width="1.25"/>
<line x1="128.30" y1="510.40" x2="128.30" y2="514.20" stroke="#000" stroke-width="1.25"/>
<line x1="134.11" y1="510.40" x2="134.11" y2="513.10" stroke="#000" stroke-width="1.25"/>
<line x1="137.51" y1="510.40" x2="137.51" y2="513.10" stroke="#000" stroke-width="1.25"/>
<line x1="139.92" y1="510.40" x2="139.92" y2="513.10" stroke="#000" stroke-width="1.25"/>
<line x1="141.79" y1="510.40" x2="141.79" y2="513.10" stroke="#000" stroke-width="1.25"/>
<line x1="143.32" y1="510.40" x2="143.32" y2="513.10" stroke="#000" stroke-width="1.25"/>
<line x1="144.61" y1="510.40" x2="144.61" y2="513.10" stroke="#000" stroke-width="1.25"/>
<line x1="145.73" y1="510.40" x2="145.73" y2="513.10" stroke="#000" stroke-width="1.25"/>
<line x1="146.72" y1="510.40" x2="146.72" y2="513.10" stroke="#000" stroke-width="1.25"/>
<line x1="147.60" y1="510.40" x2="147.60" y2="514.20" stroke="#000" stroke-width="1.25"/>
<line x1="153.41" y1="510.40" x2="153.41" y2="513.10" stroke="#000" stroke-width="1.25"/>
<text x="62.92" y="528.90" font-size="9.9" fill="#222" textLength="11.38" lengthAdjust="spacingAndGlyphs">10</text>
<text x="74.05" y="525.00" font-size="7.3" fill="#222" textLength="2.58" lengthAdjust="spacingAndGlyphs">1</text>
<text x="82.37" y="528.90" font-size="9.9" fill="#222" textLength="11.38" lengthAdjust="spacingAndGlyphs">10</text>
<text x="93.49" y="525.00" font-size="7.3" fill="#222" textLength="4.03" lengthAdjust="spacingAndGlyphs">2</text>
<text x="101.82" y="528.90" font-size="9.9" fill="#222" textLength="11.38" lengthAdjust="spacingAndGlyphs">10</text>
<text x="113.03" y="525.00" font-size="7.3" fill="#222" textLength="3.87" lengthAdjust="spacingAndGlyphs">3</text>
<text x="121.27" y="528.90" font-size="9.9" fill="#222" textLength="11.38" lengthAdjust="spacingAndGlyphs">10</text>
<text x="132.60" y="525.00" font-size="7.3" fill="#222" textLength="3.64" lengthAdjust="spacingAndGlyphs">4</text>
<text x="140.72" y="528.90" font-size="9.9" fill="#222" textLength="11.38" lengthAdjust="spacingAndGlyphs">10</text>
<text x="151.92" y="525.00" font-size="7.3" fill="#222" textLength="3.87" lengthAdjust="spacingAndGlyphs">5</text>
<text x="197.39" y="407.10" font-size="10.3" fill="#111" textLength="36.98" lengthAdjust="spacingAndGlyphs">BCL-xL</text>
<line x1="167.80" y1="510.20" x2="263.95" y2="510.20" stroke="#000" stroke-width="1.3"/>
<path d="M168.60,462.30 C172.17,462.30 185.28,462.37 190.00,462.30 C194.72,462.23 194.98,462.17 196.90,461.90 C198.82,461.63 200.15,461.38 201.50,460.70 C202.85,460.02 203.83,459.05 205.00,457.80 C206.17,456.55 207.53,454.92 208.50,453.20 C209.47,451.48 210.33,449.13 210.80,447.50 C211.27,445.87 210.92,444.57 211.30,443.40 C211.68,442.23 212.70,441.65 213.10,440.50 C213.50,439.35 213.42,437.37 213.70,436.50 C213.98,435.63 214.42,436.45 214.80,435.30 C215.18,434.15 215.62,430.68 216.00,429.60 C216.38,428.52 216.72,428.90 217.10,428.80 C217.48,428.70 217.92,428.20 218.30,429.00 C218.68,429.80 218.92,431.68 219.40,433.60 C219.88,435.52 220.52,438.18 221.20,440.50 C221.88,442.82 222.83,445.38 223.50,447.50 C224.17,449.62 224.63,451.28 225.20,453.20 C225.77,455.12 226.32,457.53 226.90,459.00 C227.48,460.47 227.85,461.45 228.70,462.00 C229.55,462.55 226.26,462.25 232.00,462.30 C237.74,462.35 257.96,462.30 263.15,462.30 L263.15,462.30 L168.60,462.30 Z" fill="#bad9a2" stroke="none"/>
<path d="M168.60,486.10 C174.67,486.10 197.72,486.13 205.00,486.10 C212.28,486.07 210.50,486.18 212.30,485.90 C214.10,485.62 214.65,485.13 215.80,484.40 C216.95,483.67 218.15,482.75 219.20,481.50 C220.25,480.25 221.23,478.82 222.10,476.90 C222.97,474.98 223.77,472.68 224.40,470.00 C225.03,467.32 225.45,463.50 225.90,460.80 C226.35,458.10 226.77,455.35 227.10,453.80 C227.43,452.25 227.58,452.27 227.90,451.50 C228.22,450.73 228.62,450.20 229.00,449.20 C229.38,448.20 229.82,445.88 230.20,445.50 C230.58,445.12 230.92,446.08 231.30,446.90 C231.68,447.72 232.10,448.85 232.50,450.40 C232.90,451.95 233.22,453.13 233.70,456.20 C234.18,459.27 234.83,464.97 235.40,468.80 C235.97,472.63 236.43,476.60 237.10,479.20 C237.77,481.80 238.53,483.25 239.40,484.40 C240.27,485.55 238.34,485.82 242.30,486.10 C246.26,486.38 259.68,486.10 263.15,486.10 L263.15,486.10 L168.60,486.10 Z" fill="#e7c2c3" stroke="none"/>
<path d="M168.60,462.30 C172.17,462.30 185.28,462.37 190.00,462.30 C194.72,462.23 194.98,462.17 196.90,461.90 C198.82,461.63 200.15,461.38 201.50,460.70 C202.85,460.02 203.83,459.05 205.00,457.80 C206.17,456.55 207.53,454.92 208.50,453.20 C209.47,451.48 210.33,449.13 210.80,447.50 C211.27,445.87 210.92,444.57 211.30,443.40 C211.68,442.23 212.70,441.65 213.10,440.50 C213.50,439.35 213.42,437.37 213.70,436.50 C213.98,435.63 214.42,436.45 214.80,435.30 C215.18,434.15 215.62,430.68 216.00,429.60 C216.38,428.52 216.72,428.90 217.10,428.80 C217.48,428.70 217.92,428.20 218.30,429.00 C218.68,429.80 218.92,431.68 219.40,433.60 C219.88,435.52 220.52,438.18 221.20,440.50 C221.88,442.82 222.83,445.38 223.50,447.50 C224.17,449.62 224.63,451.28 225.20,453.20 C225.77,455.12 226.32,457.53 226.90,459.00 C227.48,460.47 227.85,461.45 228.70,462.00 C229.55,462.55 226.26,462.25 232.00,462.30 C237.74,462.35 257.96,462.30 263.15,462.30" fill="none" stroke="#6db33f" stroke-width="1.3" stroke-linejoin="round"/>
<path d="M168.60,486.10 C174.67,486.10 197.72,486.13 205.00,486.10 C212.28,486.07 210.50,486.18 212.30,485.90 C214.10,485.62 214.65,485.13 215.80,484.40 C216.95,483.67 218.15,482.75 219.20,481.50 C220.25,480.25 221.23,478.82 222.10,476.90 C222.97,474.98 223.77,472.68 224.40,470.00 C225.03,467.32 225.45,463.50 225.90,460.80 C226.35,458.10 226.77,455.35 227.10,453.80 C227.43,452.25 227.58,452.27 227.90,451.50 C228.22,450.73 228.62,450.20 229.00,449.20 C229.38,448.20 229.82,445.88 230.20,445.50 C230.58,445.12 230.92,446.08 231.30,446.90 C231.68,447.72 232.10,448.85 232.50,450.40 C232.90,451.95 233.22,453.13 233.70,456.20 C234.18,459.27 234.83,464.97 235.40,468.80 C235.97,472.63 236.43,476.60 237.10,479.20 C237.77,481.80 238.53,483.25 239.40,484.40 C240.27,485.55 238.34,485.82 242.30,486.10 C246.26,486.38 259.68,486.10 263.15,486.10" fill="none" stroke="#c4244c" stroke-width="1.3" stroke-linejoin="round"/>
<path d="M168.60,509.50 C172.50,509.50 187.60,509.55 192.00,509.50 C196.40,509.45 193.92,509.53 195.00,509.20 C196.08,508.87 197.35,508.27 198.50,507.50 C199.65,506.73 200.75,506.23 201.90,504.60 C203.05,502.97 204.33,500.38 205.40,497.70 C206.47,495.02 207.53,491.58 208.30,488.50 C209.07,485.42 209.52,481.70 210.00,479.20 C210.48,476.70 210.82,474.27 211.20,473.50 C211.58,472.73 211.92,474.22 212.30,474.60 C212.68,474.98 213.08,475.73 213.50,475.80 C213.92,475.87 214.33,474.80 214.80,475.00 C215.27,475.20 215.85,475.53 216.30,477.00 C216.75,478.47 217.02,481.50 217.50,483.80 C217.98,486.10 218.53,488.30 219.20,490.80 C219.87,493.30 220.73,496.40 221.50,498.80 C222.27,501.20 223.02,503.55 223.80,505.20 C224.58,506.85 225.23,507.98 226.20,508.70 C227.17,509.42 223.44,509.37 229.60,509.50 C235.76,509.63 257.56,509.50 263.15,509.50" fill="none" stroke="#eea232" stroke-width="1.3" stroke-linejoin="round"/>
<line x1="213.10" y1="416.00" x2="213.10" y2="509.60" stroke="#111" stroke-width="1.3" stroke-dasharray="1.25,1.4"/>
<path d="M167.80,510.20 V414.00 H263.95 V510.20" fill="none" stroke="#000" stroke-width="1.5"/>
<line x1="170.27" y1="510.40" x2="170.27" y2="513.10" stroke="#000" stroke-width="1.25"/>
<line x1="172.14" y1="510.40" x2="172.14" y2="513.10" stroke="#000" stroke-width="1.25"/>
<line x1="173.67" y1="510.40" x2="173.67" y2="513.10" stroke="#000" stroke-width="1.25"/>
<line x1="174.96" y1="510.40" x2="174.96" y2="513.10" stroke="#000" stroke-width="1.25"/>
<line x1="176.08" y1="510.40" x2="176.08" y2="513.10" stroke="#000" stroke-width="1.25"/>
<line x1="177.07" y1="510.40" x2="177.07" y2="513.10" stroke="#000" stroke-width="1.25"/>
<line x1="177.95" y1="510.40" x2="177.95" y2="514.20" stroke="#000" stroke-width="1.25"/>
<line x1="183.76" y1="510.40" x2="183.76" y2="513.10" stroke="#000" stroke-width="1.25"/>
<line x1="187.16" y1="510.40" x2="187.16" y2="513.10" stroke="#000" stroke-width="1.25"/>
<line x1="189.57" y1="510.40" x2="189.57" y2="513.10" stroke="#000" stroke-width="1.25"/>
<line x1="191.44" y1="510.40" x2="191.44" y2="513.10" stroke="#000" stroke-width="1.25"/>
<line x1="192.97" y1="510.40" x2="192.97" y2="513.10" stroke="#000" stroke-width="1.25"/>
<line x1="194.26" y1="510.40" x2="194.26" y2="513.10" stroke="#000" stroke-width="1.25"/>
<line x1="195.38" y1="510.40" x2="195.38" y2="513.10" stroke="#000" stroke-width="1.25"/>
<line x1="196.37" y1="510.40" x2="196.37" y2="513.10" stroke="#000" stroke-width="1.25"/>
<line x1="197.25" y1="510.40" x2="197.25" y2="514.20" stroke="#000" stroke-width="1.25"/>
<line x1="203.06" y1="510.40" x2="203.06" y2="513.10" stroke="#000" stroke-width="1.25"/>
<line x1="206.46" y1="510.40" x2="206.46" y2="513.10" stroke="#000" stroke-width="1.25"/>
<line x1="208.87" y1="510.40" x2="208.87" y2="513.10" stroke="#000" stroke-width="1.25"/>
<line x1="210.74" y1="510.40" x2="210.74" y2="513.10" stroke="#000" stroke-width="1.25"/>
<line x1="212.27" y1="510.40" x2="212.27" y2="513.10" stroke="#000" stroke-width="1.25"/>
<line x1="213.56" y1="510.40" x2="213.56" y2="513.10" stroke="#000" stroke-width="1.25"/>
<line x1="214.68" y1="510.40" x2="214.68" y2="513.10" stroke="#000" stroke-width="1.25"/>
<line x1="215.67" y1="510.40" x2="215.67" y2="513.10" stroke="#000" stroke-width="1.25"/>
<line x1="216.55" y1="510.40" x2="216.55" y2="514.20" stroke="#000" stroke-width="1.25"/>
<line x1="222.36" y1="510.40" x2="222.36" y2="513.10" stroke="#000" stroke-width="1.25"/>
<line x1="225.76" y1="510.40" x2="225.76" y2="513.10" stroke="#000" stroke-width="1.25"/>
<line x1="228.17" y1="510.40" x2="228.17" y2="513.10" stroke="#000" stroke-width="1.25"/>
<line x1="230.04" y1="510.40" x2="230.04" y2="513.10" stroke="#000" stroke-width="1.25"/>
<line x1="231.57" y1="510.40" x2="231.57" y2="513.10" stroke="#000" stroke-width="1.25"/>
<line x1="232.86" y1="510.40" x2="232.86" y2="513.10" stroke="#000" stroke-width="1.25"/>
<line x1="233.98" y1="510.40" x2="233.98" y2="513.10" stroke="#000" stroke-width="1.25"/>
<line x1="234.97" y1="510.40" x2="234.97" y2="513.10" stroke="#000" stroke-width="1.25"/>
<line x1="235.85" y1="510.40" x2="235.85" y2="514.20" stroke="#000" stroke-width="1.25"/>
<line x1="241.66" y1="510.40" x2="241.66" y2="513.10" stroke="#000" stroke-width="1.25"/>
<line x1="245.06" y1="510.40" x2="245.06" y2="513.10" stroke="#000" stroke-width="1.25"/>
<line x1="247.47" y1="510.40" x2="247.47" y2="513.10" stroke="#000" stroke-width="1.25"/>
<line x1="249.34" y1="510.40" x2="249.34" y2="513.10" stroke="#000" stroke-width="1.25"/>
<line x1="250.87" y1="510.40" x2="250.87" y2="513.10" stroke="#000" stroke-width="1.25"/>
<line x1="252.16" y1="510.40" x2="252.16" y2="513.10" stroke="#000" stroke-width="1.25"/>
<line x1="253.28" y1="510.40" x2="253.28" y2="513.10" stroke="#000" stroke-width="1.25"/>
<line x1="254.27" y1="510.40" x2="254.27" y2="513.10" stroke="#000" stroke-width="1.25"/>
<line x1="255.15" y1="510.40" x2="255.15" y2="514.20" stroke="#000" stroke-width="1.25"/>
<line x1="260.96" y1="510.40" x2="260.96" y2="513.10" stroke="#000" stroke-width="1.25"/>
<text x="170.47" y="528.90" font-size="9.9" fill="#222" textLength="11.38" lengthAdjust="spacingAndGlyphs">10</text>
<text x="181.60" y="525.00" font-size="7.3" fill="#222" textLength="2.58" lengthAdjust="spacingAndGlyphs">1</text>
<text x="189.92" y="528.90" font-size="9.9" fill="#222" textLength="11.38" lengthAdjust="spacingAndGlyphs">10</text>
<text x="201.04" y="525.00" font-size="7.3" fill="#222" textLength="4.03" lengthAdjust="spacingAndGlyphs">2</text>
<text x="209.37" y="528.90" font-size="9.9" fill="#222" textLength="11.38" lengthAdjust="spacingAndGlyphs">10</text>
<text x="220.58" y="525.00" font-size="7.3" fill="#222" textLength="3.87" lengthAdjust="spacingAndGlyphs">3</text>
<text x="228.82" y="528.90" font-size="9.9" fill="#222" textLength="11.38" lengthAdjust="spacingAndGlyphs">10</text>
<text x="240.15" y="525.00" font-size="7.3" fill="#222" textLength="3.64" lengthAdjust="spacingAndGlyphs">4</text>
<text x="248.27" y="528.90" font-size="9.9" fill="#222" textLength="11.38" lengthAdjust="spacingAndGlyphs">10</text>
<text x="259.47" y="525.00" font-size="7.3" fill="#222" textLength="3.87" lengthAdjust="spacingAndGlyphs">5</text>
<text x="306.17" y="407.60" font-size="10.3" fill="#111" textLength="34.19" lengthAdjust="spacingAndGlyphs">MCL-1</text>
<line x1="274.90" y1="510.20" x2="371.05" y2="510.20" stroke="#000" stroke-width="1.3"/>
<path d="M275.70,462.30 C278.08,462.30 285.88,462.45 290.00,462.30 C294.12,462.15 297.80,461.60 300.40,461.40 C303.00,461.20 304.25,461.88 305.60,461.10 C306.95,460.32 307.45,458.30 308.50,456.70 C309.55,455.10 310.95,453.62 311.90,451.50 C312.85,449.38 313.43,446.70 314.20,444.00 C314.97,441.30 315.82,438.00 316.50,435.30 C317.18,432.60 317.82,429.82 318.30,427.80 C318.78,425.78 319.02,424.25 319.40,423.20 C319.78,422.15 320.12,421.58 320.60,421.50 C321.08,421.42 321.78,422.12 322.30,422.70 C322.82,423.28 323.32,423.57 323.70,425.00 C324.08,426.43 324.25,429.10 324.60,431.30 C324.95,433.50 325.42,435.88 325.80,438.20 C326.18,440.52 326.52,442.70 326.90,445.20 C327.28,447.70 327.72,450.70 328.10,453.20 C328.48,455.70 328.80,458.72 329.20,460.20 C329.60,461.68 329.70,461.75 330.50,462.10 C331.30,462.45 327.38,462.27 334.00,462.30 C340.62,462.33 364.21,462.30 370.25,462.30 L370.25,462.30 L275.70,462.30 Z" fill="#bad9a2" stroke="none"/>
<path d="M275.70,486.10 C280.58,486.10 298.70,486.13 305.00,486.10 C311.30,486.07 311.52,486.18 313.50,485.90 C315.48,485.62 315.75,485.22 316.90,484.40 C318.05,483.58 319.43,482.43 320.40,481.00 C321.37,479.57 322.03,477.63 322.70,475.80 C323.37,473.97 323.82,471.45 324.40,470.00 C324.98,468.55 325.62,468.63 326.20,467.10 C326.78,465.57 327.43,463.40 327.90,460.80 C328.37,458.20 328.62,453.33 329.00,451.50 C329.38,449.67 329.75,450.57 330.20,449.80 C330.65,449.03 331.27,447.73 331.70,446.90 C332.13,446.07 332.38,444.80 332.80,444.80 C333.22,444.80 333.67,445.20 334.20,446.90 C334.73,448.60 335.42,452.50 336.00,455.00 C336.58,457.50 337.13,459.20 337.70,461.90 C338.27,464.60 338.82,468.12 339.40,471.20 C339.98,474.28 340.52,478.00 341.20,480.40 C341.88,482.80 342.73,484.65 343.50,485.60 C344.27,486.55 341.34,486.02 345.80,486.10 C350.26,486.18 366.17,486.10 370.25,486.10 L370.25,486.10 L275.70,486.10 Z" fill="#e7c2c3" stroke="none"/>
<path d="M275.70,462.30 C278.08,462.30 285.88,462.45 290.00,462.30 C294.12,462.15 297.80,461.60 300.40,461.40 C303.00,461.20 304.25,461.88 305.60,461.10 C306.95,460.32 307.45,458.30 308.50,456.70 C309.55,455.10 310.95,453.62 311.90,451.50 C312.85,449.38 313.43,446.70 314.20,444.00 C314.97,441.30 315.82,438.00 316.50,435.30 C317.18,432.60 317.82,429.82 318.30,427.80 C318.78,425.78 319.02,424.25 319.40,423.20 C319.78,422.15 320.12,421.58 320.60,421.50 C321.08,421.42 321.78,422.12 322.30,422.70 C322.82,423.28 323.32,423.57 323.70,425.00 C324.08,426.43 324.25,429.10 324.60,431.30 C324.95,433.50 325.42,435.88 325.80,438.20 C326.18,440.52 326.52,442.70 326.90,445.20 C327.28,447.70 327.72,450.70 328.10,453.20 C328.48,455.70 328.80,458.72 329.20,460.20 C329.60,461.68 329.70,461.75 330.50,462.10 C331.30,462.45 327.38,462.27 334.00,462.30 C340.62,462.33 364.21,462.30 370.25,462.30" fill="none" stroke="#6db33f" stroke-width="1.3" stroke-linejoin="round"/>
<path d="M275.70,486.10 C280.58,486.10 298.70,486.13 305.00,486.10 C311.30,486.07 311.52,486.18 313.50,485.90 C315.48,485.62 315.75,485.22 316.90,484.40 C318.05,483.58 319.43,482.43 320.40,481.00 C321.37,479.57 322.03,477.63 322.70,475.80 C323.37,473.97 323.82,471.45 324.40,470.00 C324.98,468.55 325.62,468.63 326.20,467.10 C326.78,465.57 327.43,463.40 327.90,460.80 C328.37,458.20 328.62,453.33 329.00,451.50 C329.38,449.67 329.75,450.57 330.20,449.80 C330.65,449.03 331.27,447.73 331.70,446.90 C332.13,446.07 332.38,444.80 332.80,444.80 C333.22,444.80 333.67,445.20 334.20,446.90 C334.73,448.60 335.42,452.50 336.00,455.00 C336.58,457.50 337.13,459.20 337.70,461.90 C338.27,464.60 338.82,468.12 339.40,471.20 C339.98,474.28 340.52,478.00 341.20,480.40 C341.88,482.80 342.73,484.65 343.50,485.60 C344.27,486.55 341.34,486.02 345.80,486.10 C350.26,486.18 366.17,486.10 370.25,486.10" fill="none" stroke="#c4244c" stroke-width="1.3" stroke-linejoin="round"/>
<path d="M275.70,509.50 C279.42,509.50 293.43,509.55 298.00,509.50 C302.57,509.45 301.68,509.73 303.10,509.20 C304.52,508.67 305.35,507.35 306.50,506.30 C307.65,505.25 309.13,504.92 310.00,502.90 C310.87,500.88 311.12,496.80 311.70,494.20 C312.28,491.60 312.82,489.70 313.50,487.30 C314.18,484.90 315.13,481.72 315.80,479.80 C316.47,477.88 317.02,476.57 317.50,475.80 C317.98,475.03 318.32,474.82 318.70,475.20 C319.08,475.58 319.33,476.47 319.80,478.10 C320.27,479.73 320.92,482.70 321.50,485.00 C322.08,487.30 322.62,489.02 323.30,491.90 C323.98,494.78 324.83,499.60 325.60,502.30 C326.37,505.00 327.03,506.90 327.90,508.10 C328.77,509.30 329.78,509.27 330.80,509.50 C331.82,509.73 327.43,509.50 334.00,509.50 C340.57,509.50 364.21,509.50 370.25,509.50" fill="none" stroke="#eea232" stroke-width="1.3" stroke-linejoin="round"/>
<line x1="317.50" y1="416.00" x2="317.50" y2="509.60" stroke="#111" stroke-width="1.3" stroke-dasharray="1.25,1.4"/>
<path d="M274.90,510.20 V414.00 H371.05 V510.20" fill="none" stroke="#000" stroke-width="1.5"/>
<line x1="277.37" y1="510.40" x2="277.37" y2="513.10" stroke="#000" stroke-width="1.25"/>
<line x1="279.24" y1="510.40" x2="279.24" y2="513.10" stroke="#000" stroke-width="1.25"/>
<line x1="280.77" y1="510.40" x2="280.77" y2="513.10" stroke="#000" stroke-width="1.25"/>
<line x1="282.06" y1="510.40" x2="282.06" y2="513.10" stroke="#000" stroke-width="1.25"/>
<line x1="283.18" y1="510.40" x2="283.18" y2="513.10" stroke="#000" stroke-width="1.25"/>
<line x1="284.17" y1="510.40" x2="284.17" y2="513.10" stroke="#000" stroke-width="1.25"/>
<line x1="285.05" y1="510.40" x2="285.05" y2="514.20" stroke="#000" stroke-width="1.25"/>
<line x1="290.86" y1="510.40" x2="290.86" y2="513.10" stroke="#000" stroke-width="1.25"/>
<line x1="294.26" y1="510.40" x2="294.26" y2="513.10" stroke="#000" stroke-width="1.25"/>
<line x1="296.67" y1="510.40" x2="296.67" y2="513.10" stroke="#000" stroke-width="1.25"/>
<line x1="298.54" y1="510.40" x2="298.54" y2="513.10" stroke="#000" stroke-width="1.25"/>
<line x1="300.07" y1="510.40" x2="300.07" y2="513.10" stroke="#000" stroke-width="1.25"/>
<line x1="301.36" y1="510.40" x2="301.36" y2="513.10" stroke="#000" stroke-width="1.25"/>
<line x1="302.48" y1="510.40" x2="302.48" y2="513.10" stroke="#000" stroke-width="1.25"/>
<line x1="303.47" y1="510.40" x2="303.47" y2="513.10" stroke="#000" stroke-width="1.25"/>
<line x1="304.35" y1="510.40" x2="304.35" y2="514.20" stroke="#000" stroke-width="1.25"/>
<line x1="310.16" y1="510.40" x2="310.16" y2="513.10" stroke="#000" stroke-width="1.25"/>
<line x1="313.56" y1="510.40" x2="313.56" y2="513.10" stroke="#000" stroke-width="1.25"/>
<line x1="315.97" y1="510.40" x2="315.97" y2="513.10" stroke="#000" stroke-width="1.25"/>
<line x1="317.84" y1="510.40" x2="317.84" y2="513.10" stroke="#000" stroke-width="1.25"/>
<line x1="319.37" y1="510.40" x2="319.37" y2="513.10" stroke="#000" stroke-width="1.25"/>
<line x1="320.66" y1="510.40" x2="320.66" y2="513.10" stroke="#000" stroke-width="1.25"/>
<line x1="321.78" y1="510.40" x2="321.78" y2="513.10" stroke="#000" stroke-width="1.25"/>
<line x1="322.77" y1="510.40" x2="322.77" y2="513.10" stroke="#000" stroke-width="1.25"/>
<line x1="323.65" y1="510.40" x2="323.65" y2="514.20" stroke="#000" stroke-width="1.25"/>
<line x1="329.46" y1="510.40" x2="329.46" y2="513.10" stroke="#000" stroke-width="1.25"/>
<line x1="332.86" y1="510.40" x2="332.86" y2="513.10" stroke="#000" stroke-width="1.25"/>
<line x1="335.27" y1="510.40" x2="335.27" y2="513.10" stroke="#000" stroke-width="1.25"/>
<line x1="337.14" y1="510.40" x2="337.14" y2="513.10" stroke="#000" stroke-width="1.25"/>
<line x1="338.67" y1="510.40" x2="338.67" y2="513.10" stroke="#000" stroke-width="1.25"/>
<line x1="339.96" y1="510.40" x2="339.96" y2="513.10" stroke="#000" stroke-width="1.25"/>
<line x1="341.08" y1="510.40" x2="341.08" y2="513.10" stroke="#000" stroke-width="1.25"/>
<line x1="342.07" y1="510.40" x2="342.07" y2="513.10" stroke="#000" stroke-width="1.25"/>
<line x1="342.95" y1="510.40" x2="342.95" y2="514.20" stroke="#000" stroke-width="1.25"/>
<line x1="348.76" y1="510.40" x2="348.76" y2="513.10" stroke="#000" stroke-width="1.25"/>
<line x1="352.16" y1="510.40" x2="352.16" y2="513.10" stroke="#000" stroke-width="1.25"/>
<line x1="354.57" y1="510.40" x2="354.57" y2="513.10" stroke="#000" stroke-width="1.25"/>
<line x1="356.44" y1="510.40" x2="356.44" y2="513.10" stroke="#000" stroke-width="1.25"/>
<line x1="357.97" y1="510.40" x2="357.97" y2="513.10" stroke="#000" stroke-width="1.25"/>
<line x1="359.26" y1="510.40" x2="359.26" y2="513.10" stroke="#000" stroke-width="1.25"/>
<line x1="360.38" y1="510.40" x2="360.38" y2="513.10" stroke="#000" stroke-width="1.25"/>
<line x1="361.37" y1="510.40" x2="361.37" y2="513.10" stroke="#000" stroke-width="1.25"/>
<line x1="362.25" y1="510.40" x2="362.25" y2="514.20" stroke="#000" stroke-width="1.25"/>
<line x1="368.06" y1="510.40" x2="368.06" y2="513.10" stroke="#000" stroke-width="1.25"/>
<text x="277.57" y="528.90" font-size="9.9" fill="#222" textLength="11.38" lengthAdjust="spacingAndGlyphs">10</text>
<text x="288.70" y="525.00" font-size="7.3" fill="#222" textLength="2.58" lengthAdjust="spacingAndGlyphs">1</text>
<text x="297.02" y="528.90" font-size="9.9" fill="#222" textLength="11.38" lengthAdjust="spacingAndGlyphs">10</text>
<text x="308.14" y="525.00" font-size="7.3" fill="#222" textLength="4.03" lengthAdjust="spacingAndGlyphs">2</text>
<text x="316.47" y="528.90" font-size="9.9" fill="#222" textLength="11.38" lengthAdjust="spacingAndGlyphs">10</text>
<text x="327.68" y="525.00" font-size="7.3" fill="#222" textLength="3.87" lengthAdjust="spacingAndGlyphs">3</text>
<text x="335.92" y="528.90" font-size="9.9" fill="#222" textLength="11.38" lengthAdjust="spacingAndGlyphs">10</text>
<text x="347.25" y="525.00" font-size="7.3" fill="#222" textLength="3.64" lengthAdjust="spacingAndGlyphs">4</text>
<text x="355.37" y="528.90" font-size="9.9" fill="#222" textLength="11.38" lengthAdjust="spacingAndGlyphs">10</text>
<text x="366.57" y="525.00" font-size="7.3" fill="#222" textLength="3.87" lengthAdjust="spacingAndGlyphs">5</text>
<text x="374.92" y="462.00" font-size="9.4" fill="#222" textLength="42.18" lengthAdjust="spacingAndGlyphs">IL-2+RUX</text>
<text x="375.01" y="486.40" font-size="9.4" fill="#222" textLength="16.57" lengthAdjust="spacingAndGlyphs">IL-2</text>
<text x="375.14" y="509.20" font-size="9.4" fill="#222" textLength="23.18" lengthAdjust="spacingAndGlyphs">Basal</text>
<rect x="70.80" y="672.67" width="22.20" height="30.63" fill="#e08c1c"/>
<rect x="103.00" y="604.35" width="22.00" height="98.95" fill="#a6002b"/>
<rect x="135.50" y="667.06" width="22.00" height="36.24" fill="#6aab45"/>
<line x1="60.25" y1="584.70" x2="60.25" y2="703.95" stroke="#111" stroke-width="1.3"/>
<line x1="59.60" y1="703.30" x2="167.50" y2="703.30" stroke="#111" stroke-width="1.3"/>
<line x1="56.65" y1="703.30" x2="60.25" y2="703.30" stroke="#111" stroke-width="1.2"/>
<text x="47.09" y="706.55" font-size="9.6" fill="#222" textLength="5.55" lengthAdjust="spacingAndGlyphs">0</text>
<line x1="56.65" y1="674.40" x2="60.25" y2="674.40" stroke="#111" stroke-width="1.2"/>
<text x="35.98" y="677.65" font-size="9.6" fill="#222" textLength="16.66" lengthAdjust="spacingAndGlyphs">500</text>
<line x1="56.65" y1="645.50" x2="60.25" y2="645.50" stroke="#111" stroke-width="1.2"/>
<text x="30.43" y="648.75" font-size="9.6" fill="#222" textLength="22.21" lengthAdjust="spacingAndGlyphs">1000</text>
<line x1="56.65" y1="616.60" x2="60.25" y2="616.60" stroke="#111" stroke-width="1.2"/>
<text x="30.43" y="619.85" font-size="9.6" fill="#222" textLength="22.21" lengthAdjust="spacingAndGlyphs">1500</text>
<line x1="56.65" y1="587.70" x2="60.25" y2="587.70" stroke="#111" stroke-width="1.2"/>
<text x="30.43" y="590.95" font-size="9.6" fill="#222" textLength="22.21" lengthAdjust="spacingAndGlyphs">2000</text>
<line x1="81.90" y1="703.30" x2="81.90" y2="706.50" stroke="#111" stroke-width="1.2"/>
<line x1="114.00" y1="703.30" x2="114.00" y2="706.50" stroke="#111" stroke-width="1.2"/>
<line x1="146.50" y1="703.30" x2="146.50" y2="706.50" stroke="#111" stroke-width="1.2"/>
<line x1="81.30" y1="671.30" x2="81.30" y2="673.20" stroke="#111" stroke-width="1.2"/>
<line x1="75.10" y1="671.30" x2="87.50" y2="671.30" stroke="#111" stroke-width="1.2"/>
<line x1="75.10" y1="673.20" x2="87.50" y2="673.20" stroke="#111" stroke-width="1.2"/>
<line x1="114.30" y1="600.50" x2="114.30" y2="606.30" stroke="#111" stroke-width="1.2"/>
<line x1="108.70" y1="600.50" x2="119.90" y2="600.50" stroke="#111" stroke-width="1.2"/>
<line x1="108.70" y1="606.30" x2="119.90" y2="606.30" stroke="#111" stroke-width="1.2"/>
<line x1="146.30" y1="664.50" x2="146.30" y2="668.00" stroke="#111" stroke-width="1.2"/>
<line x1="140.60" y1="664.50" x2="152.00" y2="664.50" stroke="#111" stroke-width="1.2"/>
<line x1="140.60" y1="668.00" x2="152.00" y2="668.00" stroke="#111" stroke-width="1.2"/>
<circle cx="74.30" cy="670.00" r="1.75" fill="#111"/>
<circle cx="88.70" cy="673.70" r="1.75" fill="#111"/>
<circle cx="112.00" cy="600.00" r="1.75" fill="#111"/>
<circle cx="115.50" cy="600.50" r="1.75" fill="#111"/>
<circle cx="114.50" cy="610.00" r="1.75" fill="#111"/>
<circle cx="146.30" cy="663.00" r="1.75" fill="#111"/>
<circle cx="148.00" cy="669.30" r="1.75" fill="#111"/>
<text x="98.29" y="567.70" font-size="11.2" fill="#111" textLength="31.47" lengthAdjust="spacingAndGlyphs">BCL-2</text>
<line x1="82.00" y1="593.30" x2="110.80" y2="593.30" stroke="#111" stroke-width="1.2"/>
<polygon points="90.18,586.85 90.67,588.11 92.03,588.20 90.98,589.06 91.32,590.38 90.18,589.65 89.03,590.38 89.37,589.06 88.32,588.20 89.68,588.11" fill="#111"/>
<polygon points="94.33,586.85 94.82,588.11 96.18,588.20 95.13,589.06 95.47,590.38 94.33,589.65 93.18,590.38 93.52,589.06 92.47,588.20 93.83,588.11" fill="#111"/>
<polygon points="98.48,586.85 98.97,588.11 100.33,588.20 99.28,589.06 99.62,590.38 98.48,589.65 97.33,590.38 97.67,589.06 96.62,588.20 97.98,588.11" fill="#111"/>
<polygon points="102.63,586.85 103.12,588.11 104.48,588.20 103.43,589.06 103.77,590.38 102.63,589.65 101.48,590.38 101.82,589.06 100.77,588.20 102.13,588.11" fill="#111"/>
<line x1="117.30" y1="593.30" x2="146.00" y2="593.30" stroke="#111" stroke-width="1.2"/>
<polygon points="125.43,586.85 125.92,588.11 127.28,588.20 126.23,589.06 126.57,590.38 125.43,589.65 124.28,590.38 124.62,589.06 123.57,588.20 124.93,588.11" fill="#111"/>
<polygon points="129.58,586.85 130.07,588.11 131.43,588.20 130.38,589.06 130.72,590.38 129.58,589.65 128.43,590.38 128.77,589.06 127.72,588.20 129.08,588.11" fill="#111"/>
<polygon points="133.73,586.85 134.22,588.11 135.58,588.20 134.53,589.06 134.87,590.38 133.73,589.65 132.58,590.38 132.92,589.06 131.87,588.20 133.23,588.11" fill="#111"/>
<polygon points="137.88,586.85 138.37,588.11 139.73,588.20 138.68,589.06 139.02,590.38 137.88,589.65 136.73,590.38 137.07,589.06 136.02,588.20 137.38,588.11" fill="#111"/>
<text transform="translate(24.00 663.80) rotate(-90)" x="-0.70" y="0" font-size="12.0" fill="#222" textLength="41.50" lengthAdjust="spacingAndGlyphs">BCL-2 MFI</text>
<text transform="translate(85.40 715.30) rotate(-45)" x="-23.13" y="0" font-size="9.5" fill="#222" textLength="23.76" lengthAdjust="spacingAndGlyphs">Basal</text>
<text transform="translate(117.50 715.30) rotate(-45)" x="-15.89" y="0" font-size="9.5" fill="#222" textLength="16.37" lengthAdjust="spacingAndGlyphs">IL-2</text>
<text transform="translate(150.00 715.30) rotate(-45)" x="-41.78" y="0" font-size="9.5" fill="#222" textLength="41.98" lengthAdjust="spacingAndGlyphs">IL-2+RUX</text>
<rect x="236.00" y="689.96" width="21.80" height="13.34" fill="#e08c1c"/>
<rect x="268.60" y="611.07" width="21.20" height="92.23" fill="#a6002b"/>
<rect x="300.60" y="683.00" width="21.90" height="20.30" fill="#6aab45"/>
<line x1="225.60" y1="584.70" x2="225.60" y2="703.95" stroke="#111" stroke-width="1.3"/>
<line x1="224.95" y1="703.30" x2="332.90" y2="703.30" stroke="#111" stroke-width="1.3"/>
<line x1="222.00" y1="703.30" x2="225.60" y2="703.30" stroke="#111" stroke-width="1.2"/>
<text x="212.44" y="706.55" font-size="9.6" fill="#222" textLength="5.55" lengthAdjust="spacingAndGlyphs">0</text>
<line x1="222.00" y1="664.63" x2="225.60" y2="664.63" stroke="#111" stroke-width="1.2"/>
<text x="195.78" y="667.88" font-size="9.6" fill="#222" textLength="22.21" lengthAdjust="spacingAndGlyphs">2000</text>
<line x1="222.00" y1="625.96" x2="225.60" y2="625.96" stroke="#111" stroke-width="1.2"/>
<text x="195.78" y="629.21" font-size="9.6" fill="#222" textLength="22.21" lengthAdjust="spacingAndGlyphs">4000</text>
<line x1="222.00" y1="587.29" x2="225.60" y2="587.29" stroke="#111" stroke-width="1.2"/>
<text x="195.78" y="590.54" font-size="9.6" fill="#222" textLength="22.21" lengthAdjust="spacingAndGlyphs">6000</text>
<line x1="246.90" y1="703.30" x2="246.90" y2="706.50" stroke="#111" stroke-width="1.2"/>
<line x1="279.20" y1="703.30" x2="279.20" y2="706.50" stroke="#111" stroke-width="1.2"/>
<line x1="311.55" y1="703.30" x2="311.55" y2="706.50" stroke="#111" stroke-width="1.2"/>
<line x1="246.90" y1="687.30" x2="246.90" y2="692.00" stroke="#111" stroke-width="1.2"/>
<line x1="240.90" y1="687.30" x2="252.90" y2="687.30" stroke="#111" stroke-width="1.2"/>
<line x1="240.90" y1="692.00" x2="252.90" y2="692.00" stroke="#111" stroke-width="1.2"/>
<line x1="279.20" y1="606.40" x2="279.20" y2="612.80" stroke="#111" stroke-width="1.2"/>
<line x1="273.00" y1="606.40" x2="285.40" y2="606.40" stroke="#111" stroke-width="1.2"/>
<line x1="273.00" y1="612.80" x2="285.40" y2="612.80" stroke="#111" stroke-width="1.2"/>
<line x1="310.60" y1="681.20" x2="310.60" y2="683.30" stroke="#111" stroke-width="1.2"/>
<line x1="304.40" y1="681.20" x2="316.80" y2="681.20" stroke="#111" stroke-width="1.2"/>
<line x1="304.40" y1="683.30" x2="316.80" y2="683.30" stroke="#111" stroke-width="1.2"/>
<circle cx="247.00" cy="686.70" r="1.75" fill="#111"/>
<circle cx="248.30" cy="692.50" r="1.75" fill="#111"/>
<circle cx="279.00" cy="604.80" r="1.75" fill="#111"/>
<circle cx="279.00" cy="615.60" r="1.75" fill="#111"/>
<circle cx="304.60" cy="680.50" r="1.75" fill="#111"/>
<circle cx="318.50" cy="684.80" r="1.75" fill="#111"/>
<text x="260.27" y="568.10" font-size="11.2" fill="#111" textLength="37.81" lengthAdjust="spacingAndGlyphs">BCL-xL</text>
<line x1="247.00" y1="601.30" x2="277.00" y2="601.30" stroke="#111" stroke-width="1.2"/>
<polygon points="255.78,594.85 256.27,596.11 257.63,596.20 256.58,597.06 256.92,598.38 255.78,597.65 254.63,598.38 254.97,597.06 253.92,596.20 255.28,596.11" fill="#111"/>
<polygon points="259.93,594.85 260.42,596.11 261.78,596.20 260.73,597.06 261.07,598.38 259.93,597.65 258.78,598.38 259.12,597.06 258.07,596.20 259.43,596.11" fill="#111"/>
<polygon points="264.07,594.85 264.57,596.11 265.93,596.20 264.88,597.06 265.22,598.38 264.07,597.65 262.93,598.38 263.27,597.06 262.22,596.20 263.58,596.11" fill="#111"/>
<polygon points="268.23,594.85 268.72,596.11 270.08,596.20 269.03,597.06 269.37,598.38 268.23,597.65 267.08,598.38 267.42,597.06 266.37,596.20 267.73,596.11" fill="#111"/>
<line x1="281.50" y1="601.30" x2="311.40" y2="601.30" stroke="#111" stroke-width="1.2"/>
<polygon points="290.22,594.85 290.72,596.11 292.08,596.20 291.03,597.06 291.37,598.38 290.22,597.65 289.08,598.38 289.42,597.06 288.37,596.20 289.73,596.11" fill="#111"/>
<polygon points="294.37,594.85 294.87,596.11 296.23,596.20 295.18,597.06 295.52,598.38 294.37,597.65 293.23,598.38 293.57,597.06 292.52,596.20 293.88,596.11" fill="#111"/>
<polygon points="298.52,594.85 299.02,596.11 300.38,596.20 299.33,597.06 299.67,598.38 298.52,597.65 297.38,598.38 297.72,597.06 296.67,596.20 298.03,596.11" fill="#111"/>
<polygon points="302.67,594.85 303.17,596.11 304.53,596.20 303.48,597.06 303.82,598.38 302.67,597.65 301.53,598.38 301.87,597.06 300.82,596.20 302.18,596.11" fill="#111"/>
<text transform="translate(189.10 665.20) rotate(-90)" x="-0.69" y="0" font-size="12.0" fill="#222" textLength="44.66" lengthAdjust="spacingAndGlyphs">BCL-xL MFI</text>
<text transform="translate(250.40 715.30) rotate(-45)" x="-23.13" y="0" font-size="9.5" fill="#222" textLength="23.76" lengthAdjust="spacingAndGlyphs">Basal</text>
<text transform="translate(282.70 715.30) rotate(-45)" x="-15.89" y="0" font-size="9.5" fill="#222" textLength="16.37" lengthAdjust="spacingAndGlyphs">IL-2</text>
<text transform="translate(315.05 715.30) rotate(-45)" x="-41.78" y="0" font-size="9.5" fill="#222" textLength="41.98" lengthAdjust="spacingAndGlyphs">IL-2+RUX</text>
<rect x="401.00" y="690.55" width="21.80" height="12.75" fill="#e08c1c"/>
<rect x="433.60" y="627.95" width="21.60" height="75.35" fill="#a6002b"/>
<rect x="465.60" y="685.91" width="21.90" height="17.39" fill="#6aab45"/>
<line x1="390.60" y1="584.70" x2="390.60" y2="703.95" stroke="#111" stroke-width="1.3"/>
<line x1="389.95" y1="703.30" x2="497.90" y2="703.30" stroke="#111" stroke-width="1.3"/>
<line x1="387.00" y1="703.30" x2="390.60" y2="703.30" stroke="#111" stroke-width="1.2"/>
<text x="377.44" y="706.55" font-size="9.6" fill="#222" textLength="5.55" lengthAdjust="spacingAndGlyphs">0</text>
<line x1="387.00" y1="674.32" x2="390.60" y2="674.32" stroke="#111" stroke-width="1.2"/>
<text x="360.78" y="677.57" font-size="9.6" fill="#222" textLength="22.21" lengthAdjust="spacingAndGlyphs">1000</text>
<line x1="387.00" y1="645.34" x2="390.60" y2="645.34" stroke="#111" stroke-width="1.2"/>
<text x="360.78" y="648.59" font-size="9.6" fill="#222" textLength="22.21" lengthAdjust="spacingAndGlyphs">2000</text>
<line x1="387.00" y1="616.36" x2="390.60" y2="616.36" stroke="#111" stroke-width="1.2"/>
<text x="360.78" y="619.61" font-size="9.6" fill="#222" textLength="22.21" lengthAdjust="spacingAndGlyphs">3000</text>
<line x1="387.00" y1="587.38" x2="390.60" y2="587.38" stroke="#111" stroke-width="1.2"/>
<text x="360.78" y="590.63" font-size="9.6" fill="#222" textLength="22.21" lengthAdjust="spacingAndGlyphs">4000</text>
<line x1="411.90" y1="703.30" x2="411.90" y2="706.50" stroke="#111" stroke-width="1.2"/>
<line x1="444.40" y1="703.30" x2="444.40" y2="706.50" stroke="#111" stroke-width="1.2"/>
<line x1="476.55" y1="703.30" x2="476.55" y2="706.50" stroke="#111" stroke-width="1.2"/>
<line x1="412.00" y1="688.80" x2="412.00" y2="692.50" stroke="#111" stroke-width="1.2"/>
<line x1="405.90" y1="688.80" x2="418.10" y2="688.80" stroke="#111" stroke-width="1.2"/>
<line x1="405.90" y1="692.50" x2="418.10" y2="692.50" stroke="#111" stroke-width="1.2"/>
<line x1="444.30" y1="621.80" x2="444.30" y2="634.00" stroke="#111" stroke-width="1.2"/>
<line x1="438.10" y1="621.80" x2="450.50" y2="621.80" stroke="#111" stroke-width="1.2"/>
<line x1="438.10" y1="634.00" x2="450.50" y2="634.00" stroke="#111" stroke-width="1.2"/>
<line x1="476.50" y1="684.80" x2="476.50" y2="686.70" stroke="#111" stroke-width="1.2"/>
<line x1="471.00" y1="684.80" x2="482.00" y2="684.80" stroke="#111" stroke-width="1.2"/>
<line x1="471.00" y1="686.70" x2="482.00" y2="686.70" stroke="#111" stroke-width="1.2"/>
<circle cx="409.60" cy="688.00" r="1.75" fill="#111"/>
<circle cx="413.30" cy="692.50" r="1.75" fill="#111"/>
<circle cx="444.00" cy="616.00" r="1.75" fill="#111"/>
<circle cx="444.00" cy="629.50" r="1.75" fill="#111"/>
<circle cx="444.00" cy="636.50" r="1.75" fill="#111"/>
<circle cx="476.70" cy="683.30" r="1.75" fill="#111"/>
<circle cx="478.00" cy="687.30" r="1.75" fill="#111"/>
<text x="426.68" y="568.10" font-size="11.2" fill="#111" textLength="33.77" lengthAdjust="spacingAndGlyphs">MCL-1</text>
<line x1="412.00" y1="611.40" x2="442.80" y2="611.40" stroke="#111" stroke-width="1.2"/>
<polygon points="421.17,604.95 421.67,606.21 423.03,606.30 421.98,607.16 422.32,608.48 421.17,607.75 420.03,608.48 420.37,607.16 419.32,606.30 420.68,606.21" fill="#111"/>
<polygon points="425.32,604.95 425.82,606.21 427.18,606.30 426.13,607.16 426.47,608.48 425.32,607.75 424.18,608.48 424.52,607.16 423.47,606.30 424.83,606.21" fill="#111"/>
<polygon points="429.47,604.95 429.97,606.21 431.33,606.30 430.28,607.16 430.62,608.48 429.47,607.75 428.33,608.48 428.67,607.16 427.62,606.30 428.98,606.21" fill="#111"/>
<polygon points="433.62,604.95 434.12,606.21 435.48,606.30 434.43,607.16 434.77,608.48 433.62,607.75 432.48,608.48 432.82,607.16 431.77,606.30 433.13,606.21" fill="#111"/>
<line x1="447.50" y1="611.40" x2="476.70" y2="611.40" stroke="#111" stroke-width="1.2"/>
<polygon points="455.88,604.95 456.37,606.21 457.73,606.30 456.68,607.16 457.02,608.48 455.88,607.75 454.73,608.48 455.07,607.16 454.02,606.30 455.38,606.21" fill="#111"/>
<polygon points="460.02,604.95 460.52,606.21 461.88,606.30 460.83,607.16 461.17,608.48 460.02,607.75 458.88,608.48 459.22,607.16 458.17,606.30 459.53,606.21" fill="#111"/>
<polygon points="464.18,604.95 464.67,606.21 466.03,606.30 464.98,607.16 465.32,608.48 464.18,607.75 463.03,608.48 463.37,607.16 462.32,606.30 463.68,606.21" fill="#111"/>
<polygon points="468.32,604.95 468.82,606.21 470.18,606.30 469.13,607.16 469.47,608.48 468.32,607.75 467.18,608.48 467.52,607.16 466.47,606.30 467.83,606.21" fill="#111"/>
<text transform="translate(354.60 665.20) rotate(-90)" x="-0.73" y="0" font-size="12.0" fill="#222" textLength="44.76" lengthAdjust="spacingAndGlyphs">MCL-1 MFI</text>
<text transform="translate(415.40 715.30) rotate(-45)" x="-23.13" y="0" font-size="9.5" fill="#222" textLength="23.76" lengthAdjust="spacingAndGlyphs">Basal</text>
<text transform="translate(447.90 715.30) rotate(-45)" x="-15.89" y="0" font-size="9.5" fill="#222" textLength="16.37" lengthAdjust="spacingAndGlyphs">IL-2</text>
<text transform="translate(480.05 715.30) rotate(-45)" x="-41.78" y="0" font-size="9.5" fill="#222" textLength="41.98" lengthAdjust="spacingAndGlyphs">IL-2+RUX</text>
</svg>
</body></html>
